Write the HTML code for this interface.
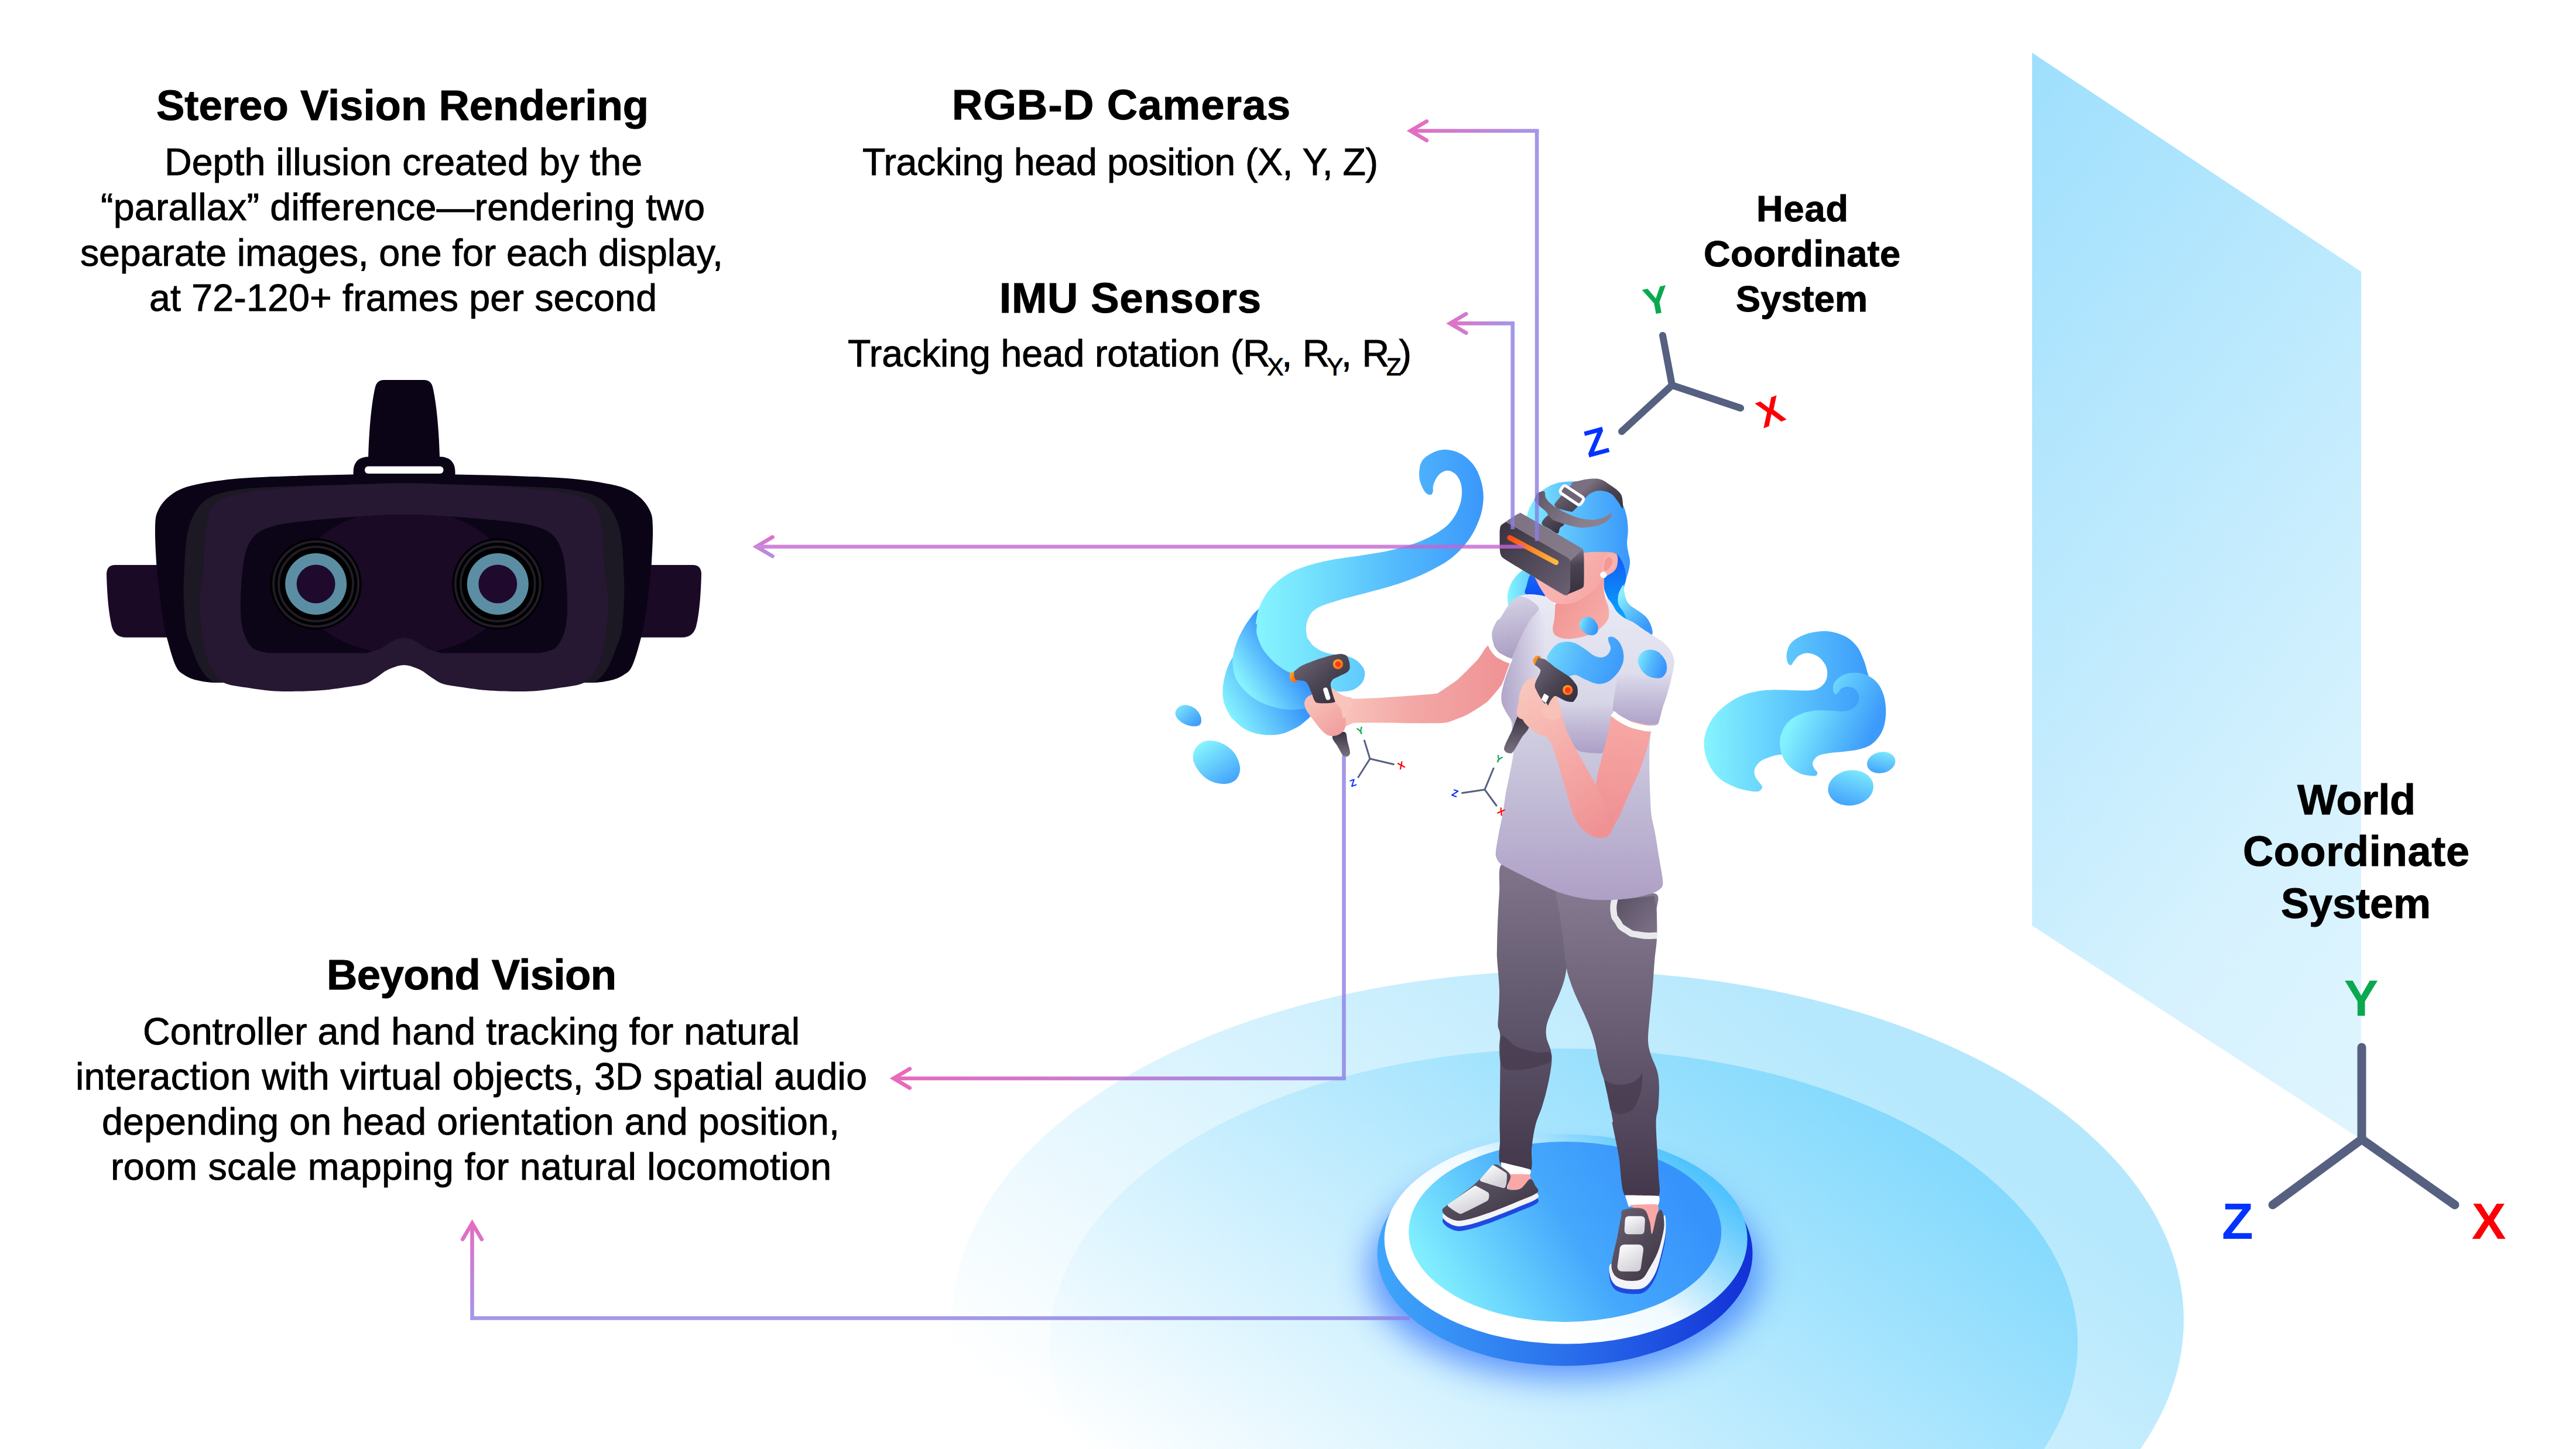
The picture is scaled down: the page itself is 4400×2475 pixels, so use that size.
<!DOCTYPE html>
<html><head><meta charset="utf-8"><title>VR tracking diagram</title>
<style>
html,body{margin:0;padding:0;background:#fff;}
body{width:4400px;height:2475px;overflow:hidden;font-family:"Liberation Sans",sans-serif;}
svg{display:block;}
text{font-family:"Liberation Sans",sans-serif;}
</style></head><body>
<svg width="4400" height="2475" viewBox="0 0 4400 2475">
<defs>
  <linearGradient id="wallG" gradientUnits="userSpaceOnUse" x1="3470" y1="90" x2="4728" y2="1079">
    <stop offset="0" stop-color="#9edffd"/><stop offset="0.73" stop-color="#d6f2fe"/><stop offset="1" stop-color="#dff5fe"/>
  </linearGradient>
  <linearGradient id="floorOuterG" gradientUnits="userSpaceOnUse" x1="1966" y1="2561" x2="2741" y2="1484">
    <stop offset="0" stop-color="#ffffff"/><stop offset="1" stop-color="#b5e8fd"/>
  </linearGradient>
  <linearGradient id="floorInnerG" gradientUnits="userSpaceOnUse" x1="1966" y1="2561" x2="2741" y2="1484">
    <stop offset="0" stop-color="#ffffff"/><stop offset="1" stop-color="#7fd8fd"/>
  </linearGradient>
  <linearGradient id="arrH1" gradientUnits="userSpaceOnUse" x1="2403" y1="0" x2="2628" y2="0">
    <stop offset="0" stop-color="#e247af"/><stop offset="1" stop-color="#8c7ee5"/>
  </linearGradient>
  <linearGradient id="arrH2" gradientUnits="userSpaceOnUse" x1="2470" y1="0" x2="2587" y2="0">
    <stop offset="0" stop-color="#df4cb6"/><stop offset="1" stop-color="#8c7ee5"/>
  </linearGradient>
  <linearGradient id="arrH3" gradientUnits="userSpaceOnUse" x1="1520" y1="0" x2="2299" y2="0">
    <stop offset="0" stop-color="#e544aa"/><stop offset="1" stop-color="#8c7ee5"/>
  </linearGradient>
  <linearGradient id="arrV4" gradientUnits="userSpaceOnUse" x1="0" y1="2083" x2="0" y2="2255">
    <stop offset="0" stop-color="#e247af"/><stop offset="1" stop-color="#8c7ee5"/>
  </linearGradient>
  <linearGradient id="arrV5" gradientUnits="userSpaceOnUse" x1="0" y1="915" x2="0" y2="952">
    <stop offset="0" stop-color="#df4bb8"/><stop offset="1" stop-color="#9c74e2"/>
  </linearGradient>
</defs>

<defs>
<linearGradient id="sw3" gradientUnits="userSpaceOnUse" x1="2099" y1="1224" x2="2200" y2="1167"><stop offset="0" stop-color="#86f4fe"/><stop offset="1" stop-color="#3a97fb"/></linearGradient>
<linearGradient id="sw2" gradientUnits="userSpaceOnUse" x1="2122" y1="1175" x2="2198" y2="1125"><stop offset="0" stop-color="#8af5fe"/><stop offset="1" stop-color="#3a97fb"/></linearGradient>
<linearGradient id="sw1" gradientUnits="userSpaceOnUse" x1="2140" y1="0" x2="2535" y2="0"><stop offset="0" stop-color="#88f6fe"/><stop offset="0.25" stop-color="#74e2fd"/><stop offset="0.6" stop-color="#55bcfc"/><stop offset="1" stop-color="#3a97fb"/></linearGradient>
<linearGradient id="blobA" gradientUnits="userSpaceOnUse" x1="2010" y1="1205" x2="2040" y2="1240"><stop offset="0" stop-color="#7fe8fd"/><stop offset="1" stop-color="#3f9efb"/></linearGradient>
<linearGradient id="blobB" gradientUnits="userSpaceOnUse" x1="2060" y1="1265" x2="2110" y2="1340"><stop offset="0" stop-color="#86f4fe"/><stop offset="1" stop-color="#3f9efb"/></linearGradient>
<linearGradient id="swR1" gradientUnits="userSpaceOnUse" x1="2911" y1="0" x2="3192" y2="0"><stop offset="0" stop-color="#86f4fe"/><stop offset="0.45" stop-color="#62cdfd"/><stop offset="1" stop-color="#3c9afb"/></linearGradient>
<linearGradient id="swR2" gradientUnits="userSpaceOnUse" x1="3042" y1="1275" x2="3168" y2="1328"><stop offset="0" stop-color="#84f2fe"/><stop offset="0.5" stop-color="#5cc4fc"/><stop offset="1" stop-color="#3c9afb"/></linearGradient>
<linearGradient id="blobC" x1="0.8" y1="0" x2="0.2" y2="1"><stop offset="0" stop-color="#7fecfe"/><stop offset="1" stop-color="#3f9efb"/></linearGradient>
<linearGradient id="hairG" gradientUnits="userSpaceOnUse" x1="2605" y1="0" x2="2785" y2="0"><stop offset="0" stop-color="#86f0fe"/><stop offset="0.35" stop-color="#62c8fd"/><stop offset="1" stop-color="#3a97fb"/></linearGradient>
<linearGradient id="hairDark" gradientUnits="userSpaceOnUse" x1="0" y1="945" x2="0" y2="1060"><stop offset="0" stop-color="#1458f5"/><stop offset="1" stop-color="#08a6fc"/></linearGradient>
<linearGradient id="hairLock" gradientUnits="userSpaceOnUse" x1="2760" y1="1010" x2="2820" y2="1060"><stop offset="0" stop-color="#8aeffd"/><stop offset="0.5" stop-color="#55bcfc"/><stop offset="1" stop-color="#3a97fb"/></linearGradient>
<linearGradient id="hairLock2" gradientUnits="userSpaceOnUse" x1="2764" y1="1020" x2="2812" y2="1070"><stop offset="0" stop-color="#8deffd"/><stop offset="0.45" stop-color="#5fc4fc"/><stop offset="1" stop-color="#3a97fb"/></linearGradient>
<linearGradient id="hairL" gradientUnits="userSpaceOnUse" x1="2575" y1="0" x2="2640" y2="0"><stop offset="0" stop-color="#86f4fe"/><stop offset="1" stop-color="#4fb4fc"/></linearGradient>
<linearGradient id="hairDk2" gradientUnits="userSpaceOnUse" x1="0" y1="980" x2="0" y2="1020"><stop offset="0" stop-color="#1a66f6"/><stop offset="1" stop-color="#0b50f4"/></linearGradient>
<linearGradient id="neckG" gradientUnits="userSpaceOnUse" x1="2660" y1="1030" x2="2740" y2="1080"><stop offset="0" stop-color="#f19694"/><stop offset="1" stop-color="#f7aeaa"/></linearGradient>
<linearGradient id="faceG" gradientUnits="userSpaceOnUse" x1="2640" y1="960" x2="2740" y2="1020"><stop offset="0" stop-color="#fab9b5"/><stop offset="1" stop-color="#f6a5a3"/></linearGradient>
<linearGradient id="vrFront" gradientUnits="userSpaceOnUse" x1="2565" y1="900" x2="2680" y2="1010"><stop offset="0" stop-color="#3a3442"/><stop offset="1" stop-color="#685f70"/></linearGradient>
<linearGradient id="vrTop" gradientUnits="userSpaceOnUse" x1="2580" y1="880" x2="2700" y2="940"><stop offset="0" stop-color="#7d7383"/><stop offset="1" stop-color="#847a8a"/></linearGradient>
<linearGradient id="vrSide" gradientUnits="userSpaceOnUse" x1="2690" y1="940" x2="2700" y2="1010"><stop offset="0" stop-color="#7a7080"/><stop offset="0.35" stop-color="#4a4351"/><stop offset="1" stop-color="#38323f"/></linearGradient>
<linearGradient id="vrStrip" gradientUnits="userSpaceOnUse" x1="2578" y1="915" x2="2660" y2="965"><stop offset="0" stop-color="#ff4a12"/><stop offset="0.5" stop-color="#fd8a2a"/><stop offset="1" stop-color="#fdbd40"/></linearGradient>
<linearGradient id="strapTop" gradientUnits="userSpaceOnUse" x1="2650" y1="830" x2="2700" y2="880"><stop offset="0" stop-color="#7c7282"/><stop offset="1" stop-color="#3d3644"/></linearGradient>
<linearGradient id="strapTopR" gradientUnits="userSpaceOnUse" x1="2720" y1="820" x2="2770" y2="870"><stop offset="0" stop-color="#7a7080"/><stop offset="0.5" stop-color="#4a4250"/><stop offset="1" stop-color="#3a3340"/></linearGradient>
<linearGradient id="strapSide" gradientUnits="userSpaceOnUse" x1="2620" y1="840" x2="2700" y2="900"><stop offset="0" stop-color="#5e5666"/><stop offset="1" stop-color="#8a8090"/></linearGradient>
<linearGradient id="strapLeg" gradientUnits="userSpaceOnUse" x1="2640" y1="880" x2="2660" y2="910"><stop offset="0" stop-color="#5a5161"/><stop offset="1" stop-color="#3a3340"/></linearGradient>
<filter id="blur40" x="-20%" y="-50%" width="140%" height="200%"><feGaussianBlur stdDeviation="28"/></filter>
<linearGradient id="platSide" gradientUnits="userSpaceOnUse" x1="2352" y1="0" x2="2994" y2="0"><stop offset="0" stop-color="#3fa6fb"/><stop offset="0.5" stop-color="#2a70ec"/><stop offset="1" stop-color="#1230d6"/></linearGradient>
<linearGradient id="platRim" gradientUnits="userSpaceOnUse" x1="2830" y1="1945" x2="2600" y2="2230"><stop offset="0" stop-color="#4fc3fd"/><stop offset="0.25" stop-color="#8fd9fd"/><stop offset="0.6" stop-color="#f0faff"/><stop offset="1" stop-color="#ffffff"/></linearGradient>
<linearGradient id="platTop" gradientUnits="userSpaceOnUse" x1="2480" y1="2230" x2="2850" y2="2000"><stop offset="0" stop-color="#80eefe"/><stop offset="0.55" stop-color="#45a8fc"/><stop offset="1" stop-color="#3793fc"/></linearGradient>
<linearGradient id="legL" gradientUnits="userSpaceOnUse" x1="0" y1="1500" x2="0" y2="2000"><stop offset="0" stop-color="#7d7288"/><stop offset="0.45" stop-color="#62586d"/><stop offset="1" stop-color="#43384c"/></linearGradient>
<linearGradient id="legR" gradientUnits="userSpaceOnUse" x1="0" y1="1500" x2="0" y2="2040"><stop offset="0" stop-color="#877c92"/><stop offset="0.45" stop-color="#6a5f75"/><stop offset="1" stop-color="#43384c"/></linearGradient>
<linearGradient id="pocketIn" gradientUnits="userSpaceOnUse" x1="2760" y1="1540" x2="2830" y2="1600"><stop offset="0" stop-color="#5c5266"/><stop offset="1" stop-color="#7f7489"/></linearGradient>
<linearGradient id="shoe" x1="0" y1="0" x2="1" y2="1"><stop offset="0" stop-color="#6a6171"/><stop offset="1" stop-color="#3a3340"/></linearGradient>
<linearGradient id="panel" x1="0" y1="0" x2="0.6" y2="1"><stop offset="0" stop-color="#ffffff"/><stop offset="1" stop-color="#d2d1d8"/></linearGradient>
<linearGradient id="armLG" gradientUnits="userSpaceOnUse" x1="2290" y1="0" x2="2560" y2="0"><stop offset="0" stop-color="#f8c4bb"/><stop offset="0.45" stop-color="#f3a8a6"/><stop offset="1" stop-color="#f09497"/></linearGradient>
<linearGradient id="handLG" gradientUnits="userSpaceOnUse" x1="2245" y1="1200" x2="2295" y2="1260"><stop offset="0" stop-color="#f8bdb4"/><stop offset="1" stop-color="#f09a9b"/></linearGradient>
<linearGradient id="shirtG" gradientUnits="userSpaceOnUse" x1="0" y1="1010" x2="0" y2="1545"><stop offset="0" stop-color="#ebebf6"/><stop offset="0.25" stop-color="#dedeed"/><stop offset="0.55" stop-color="#c9c5dc"/><stop offset="1" stop-color="#ad9ec5"/></linearGradient>
<linearGradient id="slvL" gradientUnits="userSpaceOnUse" x1="2560" y1="1020" x2="2580" y2="1130"><stop offset="0" stop-color="#d6d3e6"/><stop offset="1" stop-color="#a79bc0"/></linearGradient>
<linearGradient id="shadeV" gradientUnits="userSpaceOnUse" x1="0" y1="1200" x2="0" y2="1288"><stop offset="0" stop-color="#a798c2" stop-opacity="0"/><stop offset="1" stop-color="#a798c2" stop-opacity="0.85"/></linearGradient>
<linearGradient id="shadeS" gradientUnits="userSpaceOnUse" x1="0" y1="1150" x2="0" y2="1245"><stop offset="0" stop-color="#a99bc4" stop-opacity="0"/><stop offset="1" stop-color="#a99bc4" stop-opacity="0.9"/></linearGradient>
<linearGradient id="shadeL" gradientUnits="userSpaceOnUse" x1="2560" y1="0" x2="2640" y2="0"><stop offset="0" stop-color="#a596c0" stop-opacity="0.8"/><stop offset="1" stop-color="#a596c0" stop-opacity="0"/></linearGradient>
<linearGradient id="decG" x1="0" y1="0" x2="1" y2="0.3"><stop offset="0" stop-color="#86f0fe"/><stop offset="0.5" stop-color="#56bcfc"/><stop offset="1" stop-color="#3a97fb"/></linearGradient>
<linearGradient id="decG2" gradientUnits="userSpaceOnUse" x1="2640" y1="1100" x2="2775" y2="1150"><stop offset="0" stop-color="#74dcfd"/><stop offset="0.5" stop-color="#4fb2fc"/><stop offset="1" stop-color="#3a97fb"/></linearGradient>
<linearGradient id="ctrlG" x1="0" y1="0" x2="1" y2="1"><stop offset="0" stop-color="#736a7b"/><stop offset="0.5" stop-color="#4c4554"/><stop offset="1" stop-color="#2f2a39"/></linearGradient>
<linearGradient id="tipG" x1="0" y1="0" x2="1" y2="1"><stop offset="0" stop-color="#fdb022"/><stop offset="1" stop-color="#f45a1a"/></linearGradient>
<linearGradient id="stickG" x1="0" y1="0" x2="0" y2="1"><stop offset="0" stop-color="#3a3442"/><stop offset="1" stop-color="#7a7080"/></linearGradient>
<linearGradient id="armRU" gradientUnits="userSpaceOnUse" x1="2760" y1="1240" x2="2740" y2="1420"><stop offset="0" stop-color="#f6a6a3"/><stop offset="1" stop-color="#ef8f93"/></linearGradient>
<linearGradient id="armRF" gradientUnits="userSpaceOnUse" x1="2600" y1="1200" x2="2740" y2="1420"><stop offset="0" stop-color="#f9c6bc"/><stop offset="0.35" stop-color="#f6b0ab"/><stop offset="1" stop-color="#f09194"/></linearGradient>
<linearGradient id="handRG" gradientUnits="userSpaceOnUse" x1="2595" y1="1160" x2="2660" y2="1260"><stop offset="0" stop-color="#f9c9be"/><stop offset="1" stop-color="#f6b3ad"/></linearGradient>
</defs>

<!-- wall -->
<polygon points="3471,90 4033,464 4033,1946 3471,1581" fill="url(#wallG)"/>
<!-- floor -->
<ellipse cx="2678" cy="2255" rx="1052" ry="597" fill="url(#floorOuterG)"/>
<ellipse cx="2671" cy="2295" rx="878" ry="504" fill="url(#floorInnerG)"/>

<g id="headset">
<path d="M290,965 L197,965 Q182,965 182,981 C183,1020 186,1050 191,1070 Q196,1088.8 215,1088.8 L290,1088.8 Z" fill="#1a0a26"/>
<path d="M290,965 L197,965 Q182,965 182,981 C183,1020 186,1050 191,1070 Q196,1088.8 215,1088.8 L290,1088.8 Z" fill="#1a0a26" transform="translate(1380,0) scale(-1,1)"/>
<path d="M629,783 C630,740 634,690 641,661 Q644,649 656,649 L724,649 Q736,649 739,661 C746,690 750,740 751,783 Z" fill="#0b0416"/>
<path d="M603.5,815 L603.5,806 Q604,780 631,780 L750,780 Q777,780 777.5,806 L777.5,815 Z" fill="#0b0416"/>
<path d="M690,809.5C660,809.5 631.7,809.9 600,810.5C568.3,811.1 533.3,811.8 500,813C466.7,814.2 429.2,815.2 400,818C370.8,820.8 343.3,825.2 325,830C306.7,834.8 299.2,840 290,847C280.8,854 274.2,863.2 270,872C265.8,880.8 265.5,885.3 265,900C264.5,914.7 266,943.3 267,960C268,976.7 269.3,985 271,1000C272.7,1015 274.7,1035.2 277,1050C279.3,1064.8 281.2,1074.5 285,1089C288.8,1103.5 295,1126.3 300,1137C305,1147.7 308.8,1148.8 315,1153C321.2,1157.2 327,1159.8 337,1162C347,1164.2 356.2,1166.3 375,1166C393.8,1165.7 397.5,1166.3 450,1160C502.5,1153.7 610,1128 690,1128C770,1128 877.5,1153.7 930,1160C982.5,1166.3 986.2,1165.7 1005,1166C1023.8,1166.3 1033,1164.2 1043,1162C1053,1159.8 1058.8,1157.2 1065,1153C1071.2,1148.8 1075,1147.7 1080,1137C1085,1126.3 1091.2,1103.5 1095,1089C1098.8,1074.5 1100.7,1064.8 1103,1050C1105.3,1035.2 1107.3,1015 1109,1000C1110.7,985 1112,976.7 1113,960C1114,943.3 1115.5,914.7 1115,900C1114.5,885.3 1114.2,880.8 1110,872C1105.8,863.2 1099.2,854 1090,847C1080.8,840 1073.3,834.8 1055,830C1036.7,825.2 1009.2,820.8 980,818C950.8,815.2 913.3,814.2 880,813C846.7,811.8 811.7,811.1 780,810.5C748.3,809.9 720,809.5 690,809.5Z" fill="#0b0416"/>
<rect x="623" y="796.5" width="134.5" height="12.5" rx="6" fill="#fff"/>
<path d="M690,826C643.3,826 590,827.9 550,829C510,830.1 475,831.1 450,832.5C425,833.9 414.6,835 400,837.5C385.4,840 372.5,842.9 362.5,847.5C352.5,852.1 346.2,857.5 340,865C333.8,872.5 328.8,881.7 325,892.5C321.2,903.3 319.3,913.4 317.5,930C315.7,946.6 314.6,976.2 314,992C313.4,1007.8 313.4,1011.2 314,1025C314.6,1038.8 315.7,1062.5 317.5,1075C319.3,1087.5 321.2,1089.6 325,1100C328.8,1110.4 334.6,1127.5 340,1137.5C345.4,1147.5 351.7,1155.3 357.5,1160C363.3,1164.7 359.6,1164.7 375,1165.5C390.4,1166.3 397.5,1170.9 450,1165C502.5,1159.1 610,1130 690,1130C770,1130 877.5,1159.1 930,1165C982.5,1170.9 989.6,1166.3 1005,1165.5C1020.4,1164.7 1016.7,1164.7 1022.5,1160C1028.3,1155.3 1034.6,1147.5 1040,1137.5C1045.4,1127.5 1051.2,1110.4 1055,1100C1058.8,1089.6 1060.7,1087.5 1062.5,1075C1064.3,1062.5 1065.4,1038.8 1066,1025C1066.6,1011.2 1066.6,1007.8 1066,992C1065.4,976.2 1064.3,946.6 1062.5,930C1060.7,913.4 1058.8,903.3 1055,892.5C1051.2,881.7 1046.2,872.5 1040,865C1033.8,857.5 1027.5,852.1 1017.5,847.5C1007.5,842.9 994.6,840 980,837.5C965.4,835 955,833.9 930,832.5C905,831.1 870,830.1 830,829C790,827.9 736.7,826 690,826Z" fill="#1c1824"/>
<path d="M690,825.3C676.7,825.3 677.5,825 650,826C622.5,827 558.3,829.1 525,831C491.7,832.9 470.8,835.2 450,837.5C429.2,839.8 412.5,842.1 400,845C387.5,847.9 381.7,850.8 375,855C368.3,859.2 363.8,861.7 360,870C356.2,878.3 354.2,887.5 352,905C349.8,922.5 348.8,955 347,975C345.2,995 341.5,1008.3 341,1025C340.5,1041.7 342.5,1060.5 344,1075C345.5,1089.5 347.3,1101.2 350,1112C352.7,1122.8 355.8,1132 360,1140C364.2,1148 370,1155.2 375,1160C380,1164.8 381.7,1166.5 390,1169C398.3,1171.5 412.9,1173.2 425,1175C437.1,1176.8 450,1179 462.5,1180C475,1181 485.4,1181.2 500,1181C514.6,1180.8 533.3,1180.4 550,1179C566.7,1177.6 587.5,1174.4 600,1172.5C612.5,1170.6 617.9,1170 625,1167.5C632.1,1165 636.2,1161.4 642.5,1157.5C648.8,1153.6 654.6,1147.6 662.5,1144C670.4,1140.4 680.8,1136 690,1136C699.2,1136 709.6,1140.4 717.5,1144C725.4,1147.6 731.2,1153.6 737.5,1157.5C743.8,1161.4 747.9,1165 755,1167.5C762.1,1170 767.5,1170.6 780,1172.5C792.5,1174.4 813.3,1177.6 830,1179C846.7,1180.4 865.4,1180.8 880,1181C894.6,1181.2 905,1181 917.5,1180C930,1179 942.9,1176.8 955,1175C967.1,1173.2 981.7,1171.5 990,1169C998.3,1166.5 1000,1164.8 1005,1160C1010,1155.2 1015.8,1148 1020,1140C1024.2,1132 1027.3,1122.8 1030,1112C1032.7,1101.2 1034.5,1089.5 1036,1075C1037.5,1060.5 1039.5,1041.7 1039,1025C1038.5,1008.3 1034.8,995 1033,975C1031.2,955 1030.2,922.5 1028,905C1025.8,887.5 1023.8,878.3 1020,870C1016.2,861.7 1011.7,859.2 1005,855C998.3,850.8 992.5,847.9 980,845C967.5,842.1 950.8,839.8 930,837.5C909.2,835.2 888.3,832.9 855,831C821.7,829.1 757.5,827 730,826C702.5,825 703.3,825.3 690,825.3Z" fill="#261733"/>
<clipPath id="faceClip"><path d="M690,879C683.3,879.2 669.2,879 650,880C630.8,881 600,882.9 575,885C550,887.1 518.8,890 500,892.5C481.2,895 472.9,896.7 462.5,900C452.1,903.3 444.2,906.7 437.5,912.5C430.8,918.3 426.2,925.8 422.5,935C418.8,944.2 416.9,952.5 415,967.5C413.1,982.5 411.4,1009.2 411,1025C410.6,1040.8 411.2,1052.1 412.5,1062.5C413.8,1072.9 415.7,1080 419,1087.5C422.3,1095 426.1,1102.8 432.5,1107.5C438.9,1112.2 453.3,1114.2 457.5,1115.5L625,1115.5C629.2,1114.2 642.5,1110.9 650,1107.5C657.5,1104.1 663.3,1098.1 670,1095C676.7,1091.9 683.3,1089 690,1089C696.7,1089 703.3,1091.9 710,1095C716.7,1098.1 722.5,1104.1 730,1107.5C737.5,1110.9 750.8,1114.2 755,1115.5L922.5,1115.5C926.7,1114.2 941.1,1112.2 947.5,1107.5C953.9,1102.8 957.7,1095 961,1087.5C964.3,1080 966.2,1072.9 967.5,1062.5C968.8,1052.1 969.4,1040.8 969,1025C968.6,1009.2 966.9,982.5 965,967.5C963.1,952.5 961.2,944.2 957.5,935C953.8,925.8 949.2,918.3 942.5,912.5C935.8,906.7 927.9,903.3 917.5,900C907.1,896.7 898.8,895 880,892.5C861.2,890 830,887.1 805,885C780,882.9 749.2,881 730,880C710.8,879 696.7,879.2 690,879Z"/></clipPath>
<path d="M690,879C683.3,879.2 669.2,879 650,880C630.8,881 600,882.9 575,885C550,887.1 518.8,890 500,892.5C481.2,895 472.9,896.7 462.5,900C452.1,903.3 444.2,906.7 437.5,912.5C430.8,918.3 426.2,925.8 422.5,935C418.8,944.2 416.9,952.5 415,967.5C413.1,982.5 411.4,1009.2 411,1025C410.6,1040.8 411.2,1052.1 412.5,1062.5C413.8,1072.9 415.7,1080 419,1087.5C422.3,1095 426.1,1102.8 432.5,1107.5C438.9,1112.2 453.3,1114.2 457.5,1115.5L625,1115.5C629.2,1114.2 642.5,1110.9 650,1107.5C657.5,1104.1 663.3,1098.1 670,1095C676.7,1091.9 683.3,1089 690,1089C696.7,1089 703.3,1091.9 710,1095C716.7,1098.1 722.5,1104.1 730,1107.5C737.5,1110.9 750.8,1114.2 755,1115.5L922.5,1115.5C926.7,1114.2 941.1,1112.2 947.5,1107.5C953.9,1102.8 957.7,1095 961,1087.5C964.3,1080 966.2,1072.9 967.5,1062.5C968.8,1052.1 969.4,1040.8 969,1025C968.6,1009.2 966.9,982.5 965,967.5C963.1,952.5 961.2,944.2 957.5,935C953.8,925.8 949.2,918.3 942.5,912.5C935.8,906.7 927.9,903.3 917.5,900C907.1,896.7 898.8,895 880,892.5C861.2,890 830,887.1 805,885C780,882.9 749.2,881 730,880C710.8,879 696.7,879.2 690,879Z" fill="#0c0417"/>
<ellipse cx="690" cy="994" rx="182" ry="124" fill="#1a0a26" clip-path="url(#faceClip)"/>
<circle cx="539.6" cy="997.5" r="78" fill="#000"/>
<circle cx="539.6" cy="997.5" r="72.5" fill="none" stroke="#211d28" stroke-width="4"/>
<circle cx="539.6" cy="997.5" r="63.5" fill="none" stroke="#211d28" stroke-width="4"/>
<circle cx="539.6" cy="997.5" r="52.5" fill="#5b8ea3"/>
<circle cx="539.6" cy="997.5" r="33" fill="#1f0a2d"/>
<circle cx="850.3" cy="997.5" r="78" fill="#000"/>
<circle cx="850.3" cy="997.5" r="72.5" fill="none" stroke="#211d28" stroke-width="4"/>
<circle cx="850.3" cy="997.5" r="63.5" fill="none" stroke="#211d28" stroke-width="4"/>
<circle cx="850.3" cy="997.5" r="52.5" fill="#5b8ea3"/>
<circle cx="850.3" cy="997.5" r="33" fill="#1f0a2d"/>
</g>

<g id="swirlL">
<path d="M2133.5,1086.8C2112.7,1090.7 2111.8,1113 2105.1,1123.5C2098.4,1134.1 2096.2,1140.8 2093.4,1150.3C2090.6,1159.7 2088.7,1171.4 2088.4,1180.3C2088.1,1189.2 2089.5,1196.4 2091.8,1203.7C2094,1210.9 2099.6,1219.8 2101.8,1223.7C2103.9,1227.6 2101.2,1223.9 2104.5,1227C2107.8,1230.1 2116.1,1238.6 2121.8,1242.6C2127.6,1246.6 2133.3,1249 2139,1251C2144.7,1253 2150.2,1254 2156,1254.7C2161.8,1255.5 2167.7,1255.8 2173.5,1255.5C2179.3,1255.2 2185.1,1254.6 2190.8,1253C2196.6,1251.4 2202.3,1248.9 2208,1246C2213.7,1243.1 2218.8,1240.9 2225,1235.7C2231.2,1230.5 2239.2,1224.3 2245,1215C2250.8,1205.7 2262.5,1199.2 2260,1180C2257.5,1160.8 2251.1,1115.5 2230,1100C2208.9,1084.5 2154.3,1082.9 2133.5,1086.8Z" fill="url(#sw3)"/>
<path d="M2166.9,1033.4C2151.9,1023.4 2155.7,1035.9 2150.2,1040.1C2144.6,1044.2 2139.1,1050.6 2133.5,1058.4C2127.9,1066.2 2121.2,1077.1 2116.8,1086.8C2112.3,1096.5 2108.6,1108.2 2106.8,1116.9C2105,1125.5 2105.1,1131.3 2105.9,1138.6C2106.8,1145.8 2108.3,1153.3 2111.8,1160.3C2115.3,1167.2 2120.7,1174.2 2126.8,1180.3C2132.9,1186.4 2140.7,1192.5 2148.5,1197C2156.3,1201.4 2165.2,1204.5 2173.6,1207C2181.9,1209.5 2190.8,1211.3 2198.6,1212C2206.4,1212.7 2214.5,1212 2220.3,1211.2C2226.1,1210.4 2227,1212.2 2233.7,1207C2240.3,1201.8 2258.9,1197.8 2260,1180C2261.1,1162.2 2255.5,1124.4 2240,1100C2224.5,1075.6 2181.8,1043.4 2166.9,1033.4Z" fill="url(#sw2)"/>
<path d="M2443.8,845.2C2445.6,844.8 2446.7,843 2447.5,840C2448.3,837 2446.8,832.3 2448.5,827.5C2450.2,822.7 2453.5,815.2 2457.5,811.2C2461.5,807.3 2467.5,803.8 2472.5,803.8C2477.5,803.8 2483.5,806.9 2487.5,811.2C2491.5,815.6 2495,822.3 2496.2,830C2497.5,837.7 2497.3,848.3 2495,857.5C2492.7,866.7 2487.9,877.1 2482.5,885C2477.1,892.9 2472.1,898.3 2462.5,905C2452.9,911.7 2439.6,919.2 2425,925C2410.4,930.8 2391.7,936 2375,940C2358.3,944 2341.7,946 2325,948.8C2308.3,951.5 2289.6,953.5 2275,956.2C2260.4,959 2249.2,961.5 2237.5,965C2225.8,968.5 2214.6,972.5 2205,977.5C2195.4,982.5 2187.1,988.8 2180,995C2172.9,1001.2 2167.5,1007.5 2162.5,1015C2157.5,1022.5 2152.9,1031.7 2150,1040C2147.1,1048.3 2145.5,1060.5 2145,1065C2144.5,1069.5 2146.5,1063.7 2146.8,1066.8C2147.2,1069.9 2145.2,1076.5 2146.8,1083.5C2148.5,1090.4 2152.4,1101 2156.9,1108.5C2161.3,1116 2168,1123 2173.6,1128.5C2179.1,1134.1 2184.7,1138.3 2190.3,1141.9C2195.8,1145.5 2197,1145.9 2206.9,1150.3C2216.9,1154.6 2237.8,1163 2250,1168C2262.2,1173 2272.2,1177.8 2280,1180C2287.8,1182.2 2291.5,1181.6 2297.1,1181.1C2302.7,1180.6 2308.8,1179.6 2313.8,1177C2318.8,1174.3 2324.2,1169.7 2327.1,1165.3C2330.1,1160.8 2331.3,1154.7 2331.3,1150.3C2331.3,1145.8 2329.8,1142.5 2327.1,1138.6C2324.5,1134.7 2320.2,1129.9 2315.5,1126.9C2310.7,1123.8 2305.7,1121.9 2298.8,1120.2C2291.8,1118.5 2281.2,1118.5 2273.7,1116.9C2266.2,1115.2 2259.8,1113.5 2253.7,1110.2C2247.6,1106.8 2240.8,1101.8 2237,1096.8C2233.2,1091.8 2231.7,1086.5 2231.2,1080.1C2230.6,1073.7 2230.7,1065.2 2233.7,1058.4C2236.6,1051.6 2239.7,1044.8 2248.7,1039.2C2257.7,1033.7 2274.8,1029 2287.5,1025C2300.2,1021 2308.3,1019.6 2325,1015C2341.7,1010.4 2368.8,1003.8 2387.5,997.5C2406.2,991.2 2422.1,985 2437.5,977.5C2452.9,970 2467.9,962.1 2480,952.5C2492.1,942.9 2502.1,931.2 2510,920C2517.9,908.8 2523.5,896.2 2527.5,885C2531.5,873.8 2533.3,862.9 2533.8,852.5C2534.2,842.1 2532.7,832.1 2530,822.5C2527.3,812.9 2523.3,802.9 2517.5,795C2511.7,787.1 2503.3,779.5 2495,775C2486.7,770.5 2476,768 2467.5,768C2459,768 2450.4,771.3 2443.8,775C2437.1,778.7 2430.8,783.3 2427.5,790C2424.2,796.7 2423.9,807.9 2424.2,815C2424.6,822.1 2427.5,827.9 2429.5,832.5C2431.5,837.1 2433.9,840.4 2436.2,842.5C2438.6,844.6 2441.9,845.7 2443.8,845.2Z" fill="url(#sw1)"/>
<path d="M2007.5,1217.5C2007.9,1214.2 2010.4,1209.7 2013.8,1207.5C2017.1,1205.3 2022.7,1203.9 2027.5,1204.5C2032.3,1205.1 2038.5,1207.8 2042.5,1211.2C2046.5,1214.7 2050,1220.6 2051.2,1225C2052.5,1229.4 2052.3,1234.9 2050,1237.5C2047.7,1240.1 2042.1,1240.7 2037.5,1240.5C2032.9,1240.3 2026.9,1238.4 2022.5,1236.2C2018.1,1234.1 2013.8,1230.6 2011.2,1227.5C2008.8,1224.4 2007.1,1220.8 2007.5,1217.5Z" fill="url(#blobA)"/>
<path d="M2038,1297.5C2036.8,1290.4 2038.8,1282.8 2042.5,1277.5C2046.2,1272.2 2052.9,1267 2060,1265.5C2067.1,1264 2077.1,1265.5 2085,1268.8C2092.9,1272 2102,1278.1 2107.5,1285C2113,1291.9 2117.2,1302.5 2118,1310C2118.8,1317.5 2116.3,1325.2 2112.5,1330C2108.7,1334.8 2102.1,1337.9 2095,1338.8C2087.9,1339.6 2077.5,1338.1 2070,1335C2062.5,1331.9 2055.3,1326.2 2050,1320C2044.7,1313.8 2039.2,1304.6 2038,1297.5Z" fill="url(#blobB)"/>
</g>
<g id="swirlR">
<path d="M3058.8,1136.2C3056.8,1136.5 3054.1,1134 3053,1130.5C3051.9,1127 3050.8,1120.5 3052,1115C3053.2,1109.5 3055.3,1102.5 3060,1097.5C3064.7,1092.5 3072.5,1088.1 3080,1085C3087.5,1081.9 3096.7,1079.7 3105,1078.8C3113.3,1077.8 3121.7,1077.8 3130,1079.5C3138.3,1081.2 3147.9,1084.5 3155,1088.8C3162.1,1093 3167.9,1099 3172.5,1105C3177.1,1111 3179.8,1118.3 3182.5,1125C3185.2,1131.7 3187.1,1137.5 3188.8,1145C3190.4,1152.5 3194,1156.7 3192.5,1170C3191,1183.3 3190.4,1207.5 3180,1225C3169.6,1242.5 3146.7,1264.6 3130,1275C3113.3,1285.4 3094.6,1285.2 3080,1287.5C3065.4,1289.8 3051.7,1287.9 3042.5,1288.8C3033.3,1289.6 3030.8,1290.6 3025,1292.5C3019.2,1294.4 3012.1,1296.7 3007.5,1300C3002.9,1303.3 2999.2,1308.3 2997.5,1312.5C2995.8,1316.7 2996.5,1321.2 2997.5,1325C2998.5,1328.8 3001.7,1331.9 3003.8,1335C3005.8,1338.1 3009.8,1341 3010,1343.8C3010.2,1346.5 3008.3,1350 3005,1351.2C3001.7,1352.5 2996.7,1352.3 2990,1351.2C2983.3,1350.2 2973.8,1348.5 2965,1345C2956.2,1341.5 2945,1336.2 2937.5,1330C2930,1323.8 2924.4,1315.8 2920,1307.5C2915.6,1299.2 2912.5,1288.8 2911.2,1280C2910,1271.2 2910.2,1263.8 2912.5,1255C2914.8,1246.2 2918.8,1236.2 2925,1227.5C2931.2,1218.8 2940.8,1209.4 2950,1202.5C2959.2,1195.6 2968.8,1190.2 2980,1186.2C2991.2,1182.3 3005,1180 3017.5,1178.8C3030,1177.5 3043.8,1178.6 3055,1178.8C3066.2,1178.9 3076.7,1179.9 3085,1179.5C3093.3,1179.1 3099.6,1178.7 3105,1176.2C3110.4,1173.8 3114.8,1169.4 3117.5,1165C3120.2,1160.6 3121.2,1155 3121.2,1150C3121.2,1145 3120.2,1139.8 3117.5,1135C3114.8,1130.2 3110,1124.5 3105,1121.2C3100,1118 3092.9,1115.7 3087.5,1115.5C3082.1,1115.3 3076.3,1117.8 3072.5,1120C3068.7,1122.2 3066.8,1126 3064.5,1128.8C3062.2,1131.5 3060.7,1136 3058.8,1136.2Z" fill="url(#swR1)"/>
<path d="M3135,1186.2C3133.7,1185.6 3131.7,1183.1 3131.2,1180C3130.8,1176.9 3130.6,1171.5 3132.5,1167.5C3134.4,1163.5 3138.3,1159.2 3142.5,1156.2C3146.7,1153.3 3152.1,1151.1 3157.5,1150C3162.9,1148.9 3169.2,1148.7 3175,1149.5C3180.8,1150.3 3187.1,1152 3192.5,1155C3197.9,1158 3203.3,1162.1 3207.5,1167.5C3211.7,1172.9 3215.2,1180 3217.5,1187.5C3219.8,1195 3221,1204.2 3221.2,1212.5C3221.5,1220.8 3220.6,1230 3218.8,1237.5C3216.9,1245 3214,1251.7 3210,1257.5C3206,1263.3 3200.8,1268.8 3195,1272.5C3189.2,1276.2 3182.5,1278.1 3175,1280C3167.5,1281.9 3158.3,1282.7 3150,1283.8C3141.7,1284.8 3132.5,1285 3125,1286.2C3117.5,1287.5 3109.8,1288.5 3105,1291.2C3100.2,1294 3097.3,1299 3096.2,1302.5C3095.2,1306 3097.5,1309.8 3098.8,1312.5C3100,1315.2 3103.1,1316.8 3103.8,1318.8C3104.4,1320.8 3104.4,1323.5 3102.5,1324.5C3100.6,1325.5 3097.1,1325.5 3092.5,1325C3087.9,1324.5 3080.8,1323.8 3075,1321.2C3069.2,1318.8 3062.5,1314.8 3057.5,1310C3052.5,1305.2 3047.9,1299.2 3045,1292.5C3042.1,1285.8 3040.2,1277.1 3040,1270C3039.8,1262.9 3041.2,1256.2 3043.8,1250C3046.2,1243.8 3049.8,1237.5 3055,1232.5C3060.2,1227.5 3067.5,1223.1 3075,1220C3082.5,1216.9 3091.7,1214.8 3100,1213.8C3108.3,1212.7 3116.7,1213.5 3125,1213.8C3133.3,1214 3143.3,1215.6 3150,1215C3156.7,1214.4 3161,1212.5 3165,1210C3169,1207.5 3172.1,1203.8 3173.8,1200C3175.4,1196.2 3176,1191.5 3175,1187.5C3174,1183.5 3170.8,1178.7 3167.5,1176.2C3164.2,1173.8 3158.8,1173 3155,1173C3151.2,1173 3147.6,1174.5 3145,1176.2C3142.4,1178 3140.9,1182.1 3139.2,1183.8C3137.6,1185.4 3136.3,1186.9 3135,1186.2Z" fill="url(#swR2)"/>
<ellipse cx="3213.2" cy="1302.5" rx="24.5" ry="18" fill="url(#blobC)" transform="rotate(-12 3213.2 1302.5)"/>
<ellipse cx="3161.2" cy="1345.8" rx="39" ry="30" fill="url(#blobC)" transform="rotate(-8 3161.2 1345.8)"/>
</g>
<g id="platform">
<ellipse cx="2673" cy="2170" rx="335" ry="185" fill="#3a78fb" opacity="0.75" filter="url(#blur40)"/>
<ellipse cx="2673" cy="2141" rx="320.5" ry="192" fill="url(#platSide)"/>
<ellipse cx="2674.6" cy="2116.5" rx="310" ry="179" fill="url(#platRim)"/>
<ellipse cx="2673.2" cy="2104" rx="267" ry="154" fill="url(#platTop)"/>
</g>
<g id="legs">
<path d="M2566.7,1476.8C2559.3,1481 2563.7,1507.4 2562.5,1523.6C2561.4,1539.7 2560.4,1556.9 2559.7,1573.6C2559,1590.3 2558.5,1612.7 2558.4,1623.7C2558.2,1634.8 2558.1,1629 2558.8,1640C2559.4,1651 2562.1,1675 2562.5,1690C2562.9,1705 2561.7,1719.6 2561.2,1730C2560.8,1740.4 2559.6,1745.8 2560,1752.5C2560.4,1759.2 2563.1,1755.4 2563.8,1770C2564.4,1784.6 2563.9,1815.8 2563.8,1840C2563.6,1864.2 2563,1897.1 2563,1915C2563,1932.9 2563.5,1935.7 2563.6,1947.6C2563.7,1959.5 2559.5,1978.2 2563.6,1986.3C2567.7,1994.3 2580.2,1993.8 2588.4,1995.9C2596.7,1998 2608.9,2004.4 2613.3,1998.7C2617.7,1992.9 2613.3,1974.5 2614.7,1961.4C2616.1,1948.3 2618.6,1931.9 2621.6,1920C2624.5,1908.1 2629,1901.2 2632.5,1890C2636,1878.8 2639.8,1865 2642.5,1852.5C2645.2,1840 2647.9,1824.6 2648.8,1815C2649.6,1805.4 2649,1802.1 2647.5,1795C2646,1787.9 2641.2,1779.6 2640,1772.5C2638.8,1765.4 2638.8,1759.6 2640,1752.5C2641.2,1745.4 2644.2,1738.3 2647.5,1730C2650.8,1721.7 2656.2,1711.7 2660,1702.5C2663.8,1693.3 2667.5,1683.8 2670,1675C2672.5,1666.2 2673.3,1660 2675,1650C2676.7,1640 2674.7,1627.7 2680,1615C2685.3,1602.3 2705.2,1587.5 2706.9,1573.6C2708.7,1559.8 2698.6,1540.8 2690.3,1531.9C2681.9,1523 2670.8,1525.8 2656.9,1520.2C2642.9,1514.7 2621.8,1505.7 2606.8,1498.5C2591.8,1491.3 2574.1,1472.6 2566.7,1476.8Z" fill="url(#legL)" stroke="url(#legL)" stroke-width="3"/>
<path d="M2659.4,1521.9C2654.9,1526.2 2661.7,1542.8 2663.5,1556.9C2665.3,1571.1 2668.7,1595.3 2670.2,1607C2671.7,1618.8 2671.7,1620.3 2672.5,1627.5C2673.3,1634.7 2673.8,1642.9 2675,1650C2676.2,1657.1 2677.5,1662.1 2680,1670C2682.5,1677.9 2685.8,1687.5 2690,1697.5C2694.2,1707.5 2700.4,1719.6 2705,1730C2709.6,1740.4 2714.2,1750.8 2717.5,1760C2720.8,1769.2 2722.9,1776.7 2725,1785C2727.1,1793.3 2728.3,1802.5 2730,1810C2731.7,1817.5 2733.3,1824.2 2735,1830C2736.7,1835.8 2737.9,1837.1 2740,1845C2742.1,1852.9 2745,1865.8 2747.5,1877.5C2750,1889.2 2753.9,1907.9 2755,1915C2756.1,1922.1 2752.4,1910 2754.1,1920C2755.8,1930 2761.7,1955 2765.1,1975.2C2768.6,1995.5 2768.3,2029.7 2774.8,2041.5C2781.2,2053.2 2794.1,2045.4 2803.8,2045.6C2813.4,2045.8 2827.9,2050 2832.8,2042.8C2837.6,2035.7 2833.4,2023.3 2832.8,2002.8C2832.1,1982.3 2828.7,1938.8 2828.6,1920C2828.6,1901.2 2831.6,1901.2 2832.5,1890C2833.4,1878.8 2834.2,1862.9 2833.8,1852.5C2833.3,1842.1 2832.3,1835.8 2830,1827.5C2827.7,1819.2 2822.5,1810.8 2820,1802.5C2817.5,1794.2 2815.4,1787.9 2815,1777.5C2814.6,1767.1 2816.2,1754.6 2817.5,1740C2818.8,1725.4 2821,1706.7 2822.5,1690C2824,1673.3 2825,1654.6 2826.2,1640C2827.5,1625.4 2829.4,1616.3 2830,1602.5C2830.6,1588.7 2830.3,1569.7 2829.6,1556.9C2829,1544.2 2838.4,1529.7 2826.3,1526.1C2814.2,1522.4 2779.7,1534.4 2757,1535.2C2734.4,1536.1 2706.5,1533.3 2690.3,1531.1C2674,1528.8 2663.8,1517.6 2659.4,1521.9Z" fill="url(#legR)"/>
<path d="M2563.8,1770C2567.9,1764.5 2579.8,1782.9 2590,1787.5C2600.2,1792.1 2615.4,1795.8 2625,1797.5C2634.6,1799.2 2643.6,1795 2647.5,1797.5C2651.4,1800 2651.4,1808.7 2648.5,1812.5C2645.6,1816.3 2638.9,1818 2630,1820.5C2621.1,1823 2605.8,1827.5 2595,1827.5C2584.2,1827.5 2570.2,1830.1 2565,1820.5C2559.8,1810.9 2559.6,1775.5 2563.8,1770Z" fill="#483c50" opacity="0.8"/>
<path d="M2740,1845C2743.3,1846.2 2752.5,1851.7 2760,1852.5C2767.5,1853.3 2778.3,1852.1 2785,1850C2791.7,1847.9 2796.6,1843.3 2800,1840C2803.4,1836.7 2804.6,1831.7 2805.5,1830C2805.2,1835 2805.5,1850.8 2803.8,1860C2802,1869.2 2798.1,1878.7 2795,1885C2791.9,1891.3 2790,1895.1 2785,1898C2780,1900.9 2770.8,1902.9 2765,1902.5C2759.2,1902.1 2752.9,1896.7 2750.5,1895.5C2749.7,1891.2 2747.2,1878.4 2745.5,1870C2743.8,1861.6 2740.9,1849.2 2740,1845Z" fill="#483c50" opacity="0.8"/>
<path d="M2757,1537.7C2757,1540.3 2756.1,1552.2 2757,1556.9C2757.9,1561.7 2760.8,1569.5 2763.7,1573.6C2766.6,1577.8 2773.8,1584.8 2778.7,1587.8C2783.6,1590.8 2793.6,1594.8 2800.4,1596.2C2807.3,1597.5 2826.2,1597.6 2830.2,1597.8C2830.1,1592.4 2830.2,1566 2829.6,1556.9C2829.1,1547.9 2826.3,1533.8 2825.8,1530.2Z" fill="url(#pocketIn)"/>
<path d="M2757.9,1535.2C2757.3,1542.5 2754.5,1544.1 2756.2,1556.9C2757.9,1569.7 2755.8,1563.1 2762.9,1573.6C2769.9,1584.2 2764.9,1580.9 2777.4,1588.7C2789.9,1596.5 2782.8,1593.9 2800.4,1597C2818,1600.1 2820.2,1597.7 2830.2,1598" fill="none" stroke="#e9e9ec" stroke-width="11"/>
</g>
<g id="feet">
<path d="M2463.4,2067.7C2463.2,2064.1 2467.3,2062.4 2472.5,2058C2477.7,2053.7 2486.8,2047.4 2494.6,2041.5C2502.4,2035.5 2512.1,2028.6 2519.4,2022.1C2526.8,2015.7 2533.2,2008.3 2538.8,2002.8C2544.3,1997.3 2548,1990.4 2552.6,1989C2557.2,1987.6 2561.8,1991.3 2566.4,1994.5C2571,1997.8 2578.8,2002.4 2580.2,2008.3C2581.5,2014.3 2571.9,2026.7 2574.6,2030.4C2577.4,2034.1 2590.3,2033.2 2596.7,2030.4C2603.2,2027.7 2609.1,2014.8 2613.3,2013.9C2617.5,2012.9 2620.1,2021 2622.1,2024.9C2624.1,2028.8 2631.1,2032.5 2625.4,2037.3C2619.8,2042.2 2603.8,2047.6 2588.4,2053.9C2573.1,2060.2 2548.9,2069.9 2533.2,2075.1C2517.6,2080.3 2504.5,2084.3 2494.6,2085.1C2484.7,2085.8 2479.1,2082.5 2473.9,2079.6C2468.7,2076.7 2463.6,2071.3 2463.4,2067.7Z" fill="#1f49e0" transform="translate(0.5,17.5)"/>
<path d="M2463.4,2067.7C2463.2,2064.1 2467.3,2062.4 2472.5,2058C2477.7,2053.7 2486.8,2047.4 2494.6,2041.5C2502.4,2035.5 2512.1,2028.6 2519.4,2022.1C2526.8,2015.7 2533.2,2008.3 2538.8,2002.8C2544.3,1997.3 2548,1990.4 2552.6,1989C2557.2,1987.6 2561.8,1991.3 2566.4,1994.5C2571,1997.8 2578.8,2002.4 2580.2,2008.3C2581.5,2014.3 2571.9,2026.7 2574.6,2030.4C2577.4,2034.1 2590.3,2033.2 2596.7,2030.4C2603.2,2027.7 2609.1,2014.8 2613.3,2013.9C2617.5,2012.9 2620.1,2021 2622.1,2024.9C2624.1,2028.8 2631.1,2032.5 2625.4,2037.3C2619.8,2042.2 2603.8,2047.6 2588.4,2053.9C2573.1,2060.2 2548.9,2069.9 2533.2,2075.1C2517.6,2080.3 2504.5,2084.3 2494.6,2085.1C2484.7,2085.8 2479.1,2082.5 2473.9,2079.6C2468.7,2076.7 2463.6,2071.3 2463.4,2067.7Z" fill="#f4f4f8" transform="translate(0.5,9.5)"/>
<path d="M2563.6,1984.9C2566.9,1985.7 2610.1,1995.8 2613.3,1997.3C2616.5,1998.8 2614.1,2007 2611.9,2007.8C2609.7,2008.5 2583.3,2009 2580.2,2008.3C2577,2007.6 2566,1998 2565,1997.3Z" fill="#ffffff"/>
<path d="M2579.6,2005.6C2581.8,2005.6 2609.6,2005.4 2611.9,2006.1C2614.2,2006.9 2615.7,2014.9 2614.7,2016.6C2613.7,2018.3 2599.4,2030.8 2596.7,2031.8C2594.1,2032.8 2576.1,2031.8 2574.6,2031.8Z" fill="#f9a8a6"/>
<path d="M2463.4,2067.7C2463.2,2064.1 2467.3,2062.4 2472.5,2058C2477.7,2053.7 2486.8,2047.4 2494.6,2041.5C2502.4,2035.5 2512.1,2028.6 2519.4,2022.1C2526.8,2015.7 2533.2,2008.3 2538.8,2002.8C2544.3,1997.3 2548,1990.4 2552.6,1989C2557.2,1987.6 2561.8,1991.3 2566.4,1994.5C2571,1997.8 2578.8,2002.4 2580.2,2008.3C2581.5,2014.3 2571.9,2026.7 2574.6,2030.4C2577.4,2034.1 2590.3,2033.2 2596.7,2030.4C2603.2,2027.7 2609.1,2014.8 2613.3,2013.9C2617.5,2012.9 2620.1,2021 2622.1,2024.9C2624.1,2028.8 2631.1,2032.5 2625.4,2037.3C2619.8,2042.2 2603.8,2047.6 2588.4,2053.9C2573.1,2060.2 2548.9,2069.9 2533.2,2075.1C2517.6,2080.3 2504.5,2084.3 2494.6,2085.1C2484.7,2085.8 2479.1,2082.5 2473.9,2079.6C2468.7,2076.7 2463.6,2071.3 2463.4,2067.7Z" fill="url(#shoe)"/>
<path d="M2550.4,1993.2C2551.2,1993.7 2570,2004.5 2570.8,2005.9C2571.5,2007.2 2570.2,2025.9 2568.6,2026.3C2566.9,2026.7 2532.6,2015.7 2531,2015.2Z" fill="url(#panel)" stroke="url(#panel)" stroke-width="6" stroke-linejoin="round"/>
<path d="M2520,2028.2C2520.8,2028.7 2539.4,2038.4 2540.1,2039.3C2540.9,2040.1 2540.7,2047.1 2538.8,2048.4C2536.9,2049.7 2497.2,2070 2494.6,2070.4C2492,2070.9 2476.6,2059.1 2475.8,2058.6Z" fill="url(#panel)" stroke="url(#panel)" stroke-width="6" stroke-linejoin="round"/>
<path d="M2749.4,2160.2C2747.5,2164.3 2749.2,2176.3 2751.3,2182.2C2753.5,2188.2 2756.8,2192.9 2762.4,2196.1C2767.9,2199.2 2776.6,2200.8 2784.4,2201C2792.3,2201.3 2802.2,2201.9 2809.3,2197.4C2816.4,2192.9 2822.4,2183.9 2827.2,2174C2832.1,2164.1 2835.3,2150 2838.3,2138.1C2841.3,2126.1 2844.4,2112.8 2845.2,2102.2C2846,2091.6 2845.3,2072.7 2843,2074.6C2840.7,2076.4 2837,2102.2 2831.4,2113.2C2825.8,2124.3 2817.6,2133.9 2809.3,2140.8C2801,2147.7 2789.5,2151.9 2781.7,2154.6C2773.9,2157.4 2767.7,2156.5 2762.4,2157.4C2757,2158.3 2751.2,2156 2749.4,2160.2Z" fill="#1f49e0" transform="translate(0,9)"/>
<path d="M2749.4,2160.2C2747.5,2164.3 2749.2,2176.3 2751.3,2182.2C2753.5,2188.2 2756.8,2192.9 2762.4,2196.1C2767.9,2199.2 2776.6,2200.8 2784.4,2201C2792.3,2201.3 2802.2,2201.9 2809.3,2197.4C2816.4,2192.9 2822.4,2183.9 2827.2,2174C2832.1,2164.1 2835.3,2150 2838.3,2138.1C2841.3,2126.1 2844.4,2112.8 2845.2,2102.2C2846,2091.6 2845.3,2072.7 2843,2074.6C2840.7,2076.4 2837,2102.2 2831.4,2113.2C2825.8,2124.3 2817.6,2133.9 2809.3,2140.8C2801,2147.7 2789.5,2151.9 2781.7,2154.6C2773.9,2157.4 2767.7,2156.5 2762.4,2157.4C2757,2158.3 2751.2,2156 2749.4,2160.2Z" fill="#f4f4f8" transform="translate(0,1)"/>
<path d="M2775.6,2041.5C2779.4,2041.6 2829.1,2041.6 2832.8,2042.8C2836.4,2044 2834.2,2058.2 2830.8,2059.4C2827.4,2060.6 2785,2060.7 2781.7,2060.8Z" fill="#ffffff"/>
<path d="M2783.1,2058C2786.2,2058 2827.6,2056.4 2830.8,2057.5C2834.1,2058.6 2832.4,2071.1 2831.9,2074.6C2831.4,2078.1 2824.8,2110.5 2823.1,2110.5C2821.4,2110.5 2807.6,2077 2806.5,2074.6Z" fill="#f9a8a6"/>
<path d="M2773.4,2066.3C2779.7,2063.8 2799.2,2061.7 2806.5,2064.9C2813.9,2068.1 2815,2078.5 2817.6,2085.6C2820.1,2092.8 2819.6,2109.6 2821.7,2107.7C2823.8,2105.9 2827.5,2081.5 2830,2074.6C2832.5,2067.7 2835,2065.8 2836.9,2066.3C2838.8,2066.8 2840.5,2071.8 2841.3,2077.3C2842.1,2082.9 2843.4,2089.3 2841.9,2099.4C2840.3,2109.6 2836,2127 2831.9,2138.1C2827.9,2149.1 2822.2,2158 2817.6,2165.7C2813,2173.4 2810.3,2180.8 2804.3,2184.5C2798.3,2188.1 2788.8,2188.2 2781.7,2187.8C2774.6,2187.3 2766.5,2184.9 2761.8,2181.7C2757.1,2178.5 2754.6,2173.4 2753.3,2168.4C2751.9,2163.5 2752.3,2161.1 2753.8,2151.9C2755.3,2142.7 2759.9,2125.2 2762.4,2113.2C2764.8,2101.3 2766.9,2087.9 2768.7,2080.1C2770.5,2072.3 2767.1,2068.8 2773.4,2066.3Z" fill="url(#shoe)"/>
<path d="M2782.6107660455486,2077.349896480331 L2802.84126984127,2077.349896480331 Q2809.84126984127,2077.349896480331 2809.84126984127,2084.349896480331 L2808.84126984127,2101.2677708764663 Q2808.84126984127,2108.2677708764663 2801.84126984127,2108.2677708764663 L2781.6107660455486,2108.2677708764663 Q2774.6107660455486,2108.2677708764663 2774.6107660455486,2101.2677708764663 L2775.6107660455486,2084.349896480331 Q2775.6107660455486,2077.349896480331 2782.6107660455486,2077.349896480331Z" fill="url(#panel)"/>
<path d="M2775.5010351966876,2125.659075224293 L2798.080745341615,2125.659075224293 Q2807.080745341615,2125.659075224293 2807.080745341615,2134.659075224293 L2803.080745341615,2162.75983436853 Q2803.080745341615,2171.75983436853 2794.080745341615,2171.75983436853 L2771.5010351966876,2171.75983436853 Q2762.5010351966876,2171.75983436853 2762.5010351966876,2162.75983436853 L2766.5010351966876,2134.659075224293 Q2766.5010351966876,2125.659075224293 2775.5010351966876,2125.659075224293Z" fill="url(#panel)"/>
</g>
<g id="hairBack">
<path d="M2608.4,893.5C2606.1,885.7 2607.6,882.9 2609.3,876.8C2611,870.7 2614.4,863.2 2618.5,856.8C2622.5,850.4 2627.1,843.6 2633.5,838.4C2639.9,833.3 2648.8,828.5 2656.9,825.9C2664.9,823.2 2673.6,823 2681.9,822.6C2690.3,822.1 2698.6,822.4 2706.9,823.4C2715.3,824.4 2723.6,825.6 2732,828.4C2740.3,831.2 2750.5,834.8 2757,840.1C2763.6,845.4 2767.6,852.9 2771.2,860.1C2774.8,867.4 2777.1,875.7 2778.7,883.5C2780.3,891.3 2780.7,899.6 2780.7,906.9C2780.8,914.1 2779,920.8 2779.1,926.9C2779.1,933 2780.4,938.3 2781.2,943.6C2782.1,948.9 2783.9,953.6 2784.1,958.6C2784.2,963.6 2783.2,968.4 2782.1,973.6C2781,978.9 2778.8,984.5 2777.4,990C2776,995.5 2773.8,1001.1 2773.7,1006.7C2773.7,1012.3 2775.1,1018.7 2777.1,1023.4C2779,1028.1 2781.5,1031.5 2785.4,1035.1C2789.3,1038.7 2795.7,1041.5 2800.4,1045.1C2805.2,1048.7 2810.3,1052 2813.8,1056.8C2817.3,1061.5 2820.1,1068.9 2821.3,1073.5C2822.5,1078.1 2823.2,1084 2820.8,1084.3C2818.4,1084.6 2812.2,1078.6 2807.1,1075.1C2802,1071.7 2796,1066.8 2790.4,1063.5C2784.9,1060.1 2778.5,1058.2 2773.7,1055.1C2769,1052 2765.4,1049 2762,1045.1C2758.7,1041.2 2756.5,1036.2 2753.7,1031.7C2750.9,1027.3 2747.6,1023.1 2745.3,1018.4C2743.1,1013.7 2741.3,1008.3 2740.3,1003.4C2739.4,998.4 2745.1,996.4 2739.5,988.7C2733.9,980.9 2720.7,965 2706.9,956.9C2693.2,948.9 2670.8,945.8 2656.9,940.3C2642.9,934.7 2631.5,931.3 2623.5,923.6C2615.4,915.8 2610.8,901.3 2608.4,893.5Z" fill="url(#hairG)"/>
<path d="M2760.4,946.9C2764,945.8 2767.7,953.9 2770.4,958.6C2773,963.3 2775.1,970 2776.2,975.3C2777.3,980.6 2777.5,986.2 2777.1,990.3C2776.6,994.5 2775.7,996.5 2773.7,1000C2771.8,1003.6 2767,1007.5 2765.4,1011.7C2763.8,1015.9 2763.3,1020.3 2764,1025.1C2764.7,1029.8 2767.1,1034.8 2769.5,1040.1C2772,1045.4 2776.9,1053.3 2778.7,1056.8C2780.5,1060.3 2782.6,1061.8 2780.4,1061C2778.2,1060.1 2769.5,1055.5 2765.4,1051.8C2761.2,1048 2758.4,1043.1 2755.4,1038.4C2752.3,1033.7 2749.5,1028.7 2747,1023.4C2744.5,1018.1 2741.6,1012.3 2740.3,1006.7C2739.1,1001.1 2739.5,994.1 2739.5,990C2739.5,985.9 2738.8,986.1 2740.3,982C2741.9,977.9 2745.3,971.1 2748.7,965.3C2752,959.4 2756.8,948 2760.4,946.9Z" fill="url(#hairDark)"/>
<path d="M2772.4,999.2C2770.8,1000.3 2765.9,1009.6 2764.5,1015C2763.2,1020.5 2762.8,1026.7 2764.2,1031.7C2765.6,1036.7 2770.2,1040.4 2772.9,1045.1C2775.6,1049.8 2777.5,1057.1 2780.4,1060.1C2783.3,1063.2 2786,1061 2790.4,1063.5C2794.9,1066 2802,1071.7 2807.1,1075.1C2812.2,1078.6 2818.4,1084.6 2820.8,1084.3C2823.2,1084 2822.8,1078.1 2821.6,1073.5C2820.5,1068.9 2817.3,1061.5 2813.8,1056.8C2810.3,1052 2805.2,1048.7 2800.4,1045.1C2795.7,1041.5 2789.3,1038.7 2785.4,1035.1C2781.5,1031.5 2779,1027.8 2777.1,1023.4C2775.2,1018.9 2774.8,1012.4 2774.1,1008.4C2773.3,1004.3 2774,998.1 2772.4,999.2Z" fill="url(#hairLock2)"/>
<path d="M2611.8,970.3C2607.1,968.9 2600.1,974.5 2595.1,978.6C2590.1,982.8 2585,989.5 2581.7,995.3C2578.5,1001.2 2576.5,1009 2575.4,1013.7C2574.3,1018.4 2574.7,1019.8 2575.1,1023.4C2575.4,1027 2575.1,1035.1 2577.6,1035.1C2580.1,1035.1 2584.7,1026.7 2590.1,1023.4C2595.5,1020.1 2601.8,1015.9 2610.1,1015C2618.5,1014.2 2636.3,1020.9 2640.2,1018.4C2644.1,1015.9 2636.3,1005.2 2633.5,1000C2630.7,994.8 2627.1,991.9 2623.5,987C2619.9,982 2616.5,971.7 2611.8,970.3Z" fill="url(#hairL)"/>
<path d="M2614.3,982C2617.5,980.3 2622.8,984.4 2626.8,990.3C2630.8,996.3 2639.6,1013.4 2638.5,1017.9C2637.4,1022.3 2625.7,1017.8 2620.1,1017C2614.6,1016.3 2607.2,1016.2 2605.1,1013.4C2603,1010.6 2606.1,1005.6 2607.6,1000.4C2609.1,995.1 2611.1,983.7 2614.3,982Z" fill="url(#hairDk2)"/>
</g>
<g id="armL">
<path d="M2583.9,1110.1C2580.6,1109.3 2548.8,1099.5 2543.8,1100.9C2538.8,1102.3 2528.3,1121.8 2523.8,1126.8C2519.4,1131.7 2496,1155.5 2490.4,1160.2C2484.9,1164.9 2460.3,1181.1 2457,1183.2C2453.7,1185.3 2454.9,1184.4 2450.7,1184.9C2446.5,1185.3 2414.8,1188 2406.9,1188.5C2399.1,1189.1 2365.2,1191.5 2356.9,1191.9C2348.5,1192.3 2312.3,1193.8 2306.8,1193.6C2301.2,1193.3 2292.7,1190 2290.1,1188.5C2287.5,1187.1 2276.9,1175.6 2275.9,1176C2274.9,1176.4 2277.2,1190.7 2278.4,1193.6C2279.6,1196.4 2288.5,1207.5 2290.1,1210.3C2291.7,1213 2296.9,1224.4 2297.6,1226.9C2298.3,1229.4 2298,1239.5 2298.8,1240.3C2299.5,1241.1 2305.4,1237.4 2306.8,1237C2308.1,1236.5 2311,1234.8 2315.1,1234.6C2319.3,1234.4 2349.2,1234.4 2356.9,1234.5C2364.5,1234.5 2398.6,1235.2 2406.9,1235.3C2415.3,1235.4 2451.5,1235.4 2457,1235.3C2462.6,1235.2 2469.5,1234.9 2473.7,1233.6C2477.9,1232.4 2501.5,1223.2 2507.1,1220.3C2512.7,1217.3 2535.6,1202.9 2540.5,1198.6C2545.4,1194.3 2562.3,1173.9 2565.5,1168.5C2568.7,1163.1 2576.5,1136.9 2578.9,1133.5C2581.3,1130 2592.7,1127.3 2593.9,1126.8Z" fill="url(#armLG)"/>
</g>
<g id="ctrlL">
<path d="M2275.9,1257.8C2273.9,1262 2282.2,1269.9 2285.1,1275.4C2288,1280.8 2291.5,1287.5 2293.4,1290.4C2295.4,1293.2 2295.3,1292.2 2296.8,1292.4C2298.2,1292.6 2300.6,1292.9 2302.1,1291.7C2303.6,1290.6 2306,1289.5 2305.9,1285.4C2305.9,1281.3 2303.3,1272.9 2301.8,1267C2300.2,1261.2 2301.1,1251.8 2296.8,1250.3C2292.4,1248.8 2277.8,1253.7 2275.9,1257.8Z" fill="url(#stickG)"/>
<path d="M2228,1200C2228.4,1196.2 2230.9,1192.3 2233.8,1190C2236.6,1187.7 2240.2,1185.8 2245,1186.2C2249.8,1186.7 2256.2,1190.6 2262.5,1192.5C2268.8,1194.4 2277.1,1194.2 2282.5,1197.5C2287.9,1200.8 2292.3,1206.7 2295,1212.5C2297.7,1218.3 2298.5,1226.9 2298.8,1232.5C2299,1238.1 2298.5,1242.4 2296.2,1246.2C2294,1250.1 2289.4,1253.8 2285,1255.5C2280.6,1257.2 2274.6,1257.8 2270,1256.5C2265.4,1255.2 2262.1,1252.1 2257.5,1247.5C2252.9,1242.9 2246.9,1234.6 2242.5,1228.8C2238.1,1222.9 2233.7,1217.3 2231.2,1212.5C2228.8,1207.7 2227.6,1203.8 2228,1200Z" fill="url(#handLG)"/>
<path d="M2202.8,1151.1C2203.2,1148.8 2205.1,1148.5 2206.9,1148.2C2208.8,1148 2212.2,1146.9 2213.6,1149.4C2215,1152 2215.8,1160.9 2215.3,1163.6C2214.7,1166.3 2212.1,1165.9 2210.3,1165.6C2208.5,1165.3 2205.7,1164.4 2204.4,1161.9C2203.2,1159.5 2202.4,1153.4 2202.8,1151.1Z" fill="url(#tipG)"/>
<path d="M2210.3,1146.9C2211.8,1145.7 2219.2,1139.2 2223.6,1136.9C2228.1,1134.6 2242.8,1128.9 2248.7,1126.9C2254.5,1124.8 2268.9,1120.5 2273.7,1119.4C2278.6,1118.2 2287.3,1116.8 2290.4,1116.9C2293.5,1117 2298.8,1118.6 2300.4,1120.2C2302.1,1121.8 2304,1127.7 2304.6,1130.2C2305.2,1132.7 2305.9,1139.8 2305.4,1141.9C2305,1144 2302.6,1147 2300.4,1148.6C2298.3,1150.1 2289.8,1153.9 2287.1,1155.3C2284.4,1156.6 2278.7,1158.9 2277.1,1160.3C2275.4,1161.6 2273.3,1165.2 2272.9,1166.9C2272.5,1168.7 2272.8,1171.6 2273.7,1175.3C2274.6,1179 2283.3,1195.7 2280.4,1198.7C2277.5,1201.6 2253.4,1202.1 2248.7,1200.3C2244,1198.6 2242,1187.1 2240.3,1183.6C2238.7,1180.1 2235.9,1172.6 2234.5,1170.3C2233.1,1167.9 2231.1,1164.7 2228.6,1163.6C2226.2,1162.5 2215.8,1162.1 2213.6,1161.1C2211.5,1160.1 2210.7,1155.9 2210.3,1155.3Z" fill="url(#ctrlG)"/>
<circle cx="2285.4" cy="1134.4" r="8.7" fill="url(#tipG)"/><circle cx="2285.4" cy="1134.4" r="4.8" fill="#fb3a1c"/>
<rect x="2262.2" y="1174.0" width="8" height="22" rx="4" fill="#fff" transform="rotate(-17 2266.2 1185.0)"/>
<path d="M2274.2,1176C2274.4,1173 2278.3,1178.1 2281.7,1180.2C2285.2,1182.3 2290.4,1186.3 2295.1,1188.5C2299.8,1190.8 2308.2,1189.9 2310.1,1193.6C2312.1,1197.2 2309.3,1204.7 2306.8,1210.3C2304.3,1215.8 2297.9,1226.9 2295.1,1226.9C2292.3,1226.9 2292.4,1215 2290.1,1210.3C2287.7,1205.5 2283.5,1204.3 2280.9,1198.6C2278.3,1192.9 2274.1,1179.1 2274.2,1176Z" fill="#f8c4bb"/>
</g>
<g id="body">
<path d="M2595.1,1017.5C2597.8,1017.2 2609.1,1014.8 2615.1,1015C2621.1,1015.3 2634.6,1016.8 2640.2,1019.2C2645.7,1021.7 2652.4,1028.4 2656.9,1033.4C2661.3,1038.4 2666.9,1053.7 2673.6,1056.8C2680.2,1059.9 2698,1059 2706.9,1056.8C2715.8,1054.6 2735.3,1044.8 2740.3,1040.1C2745.3,1035.4 2742.7,1022.8 2744.5,1021.7C2746.3,1020.6 2751.4,1028.6 2753.7,1031.7C2756,1034.9 2759.4,1042 2762,1045.1C2764.7,1048.2 2769.9,1052.7 2773.7,1055.1C2777.5,1057.6 2786,1060.8 2790.4,1063.5C2794.9,1066.1 2803,1072.4 2807.1,1075.1C2811.2,1077.9 2816.9,1081.4 2821.3,1084.3C2825.8,1087.2 2836.2,1093.2 2840.5,1096.8C2844.8,1100.5 2851.3,1107.6 2853.9,1111.9C2856.4,1116.1 2859.3,1123.7 2859.7,1128.6C2860.1,1133.5 2858.6,1141.5 2857.2,1148.6C2855.7,1155.7 2851.1,1174.2 2848.8,1182C2846.6,1189.8 2842.4,1200.8 2840.5,1207C2838.6,1213.2 2835.9,1224.3 2834.7,1228.4C2833.4,1232.5 2832.8,1235.4 2831.3,1237.6C2829.9,1239.8 2825.4,1242.5 2823.8,1245.1C2822.2,1247.7 2820,1250.8 2819.1,1256.8C2818.2,1262.8 2817.3,1279 2817.1,1290.2C2817,1301.3 2817.5,1326.9 2818,1340.3C2818.4,1353.6 2819.2,1379.2 2820.5,1390.3C2821.7,1401.4 2825.4,1413.4 2827.1,1423.4C2828.9,1433.4 2832.1,1454.4 2833.8,1465.1C2835.6,1475.8 2839.6,1496.7 2840.2,1503.5C2840.7,1510.3 2840.2,1513.1 2838,1516C2835.8,1518.9 2830.2,1522.9 2823.8,1525.2C2817.5,1527.6 2799.3,1532 2790.4,1533.6C2781.5,1535.1 2765.9,1536.5 2757,1536.9C2748.1,1537.4 2732.5,1537.6 2723.6,1536.9C2714.7,1536.2 2699.2,1533.9 2690.3,1531.9C2681.3,1529.9 2668,1526.3 2656.9,1521.9C2645.7,1517.4 2619,1504.5 2606.8,1498.5C2594.5,1492.5 2571.8,1481.3 2565,1476.8C2558.3,1472.4 2557.2,1468.2 2555.9,1465.1C2554.5,1462 2554.5,1459 2555,1453.4C2555.6,1447.9 2558.5,1431.8 2560,1423.4C2561.6,1414.9 2565.2,1398.9 2566.7,1390C2568.3,1381.1 2570.2,1365.8 2571.7,1356.9C2573.3,1348.1 2576.6,1333.4 2578.4,1323.6C2580.2,1313.8 2584.6,1295.3 2585.1,1283.5C2585.5,1271.7 2583.2,1243.7 2581.7,1235.1C2580.2,1226.4 2576,1223 2573.9,1218.6C2571.7,1214.2 2566.8,1206.4 2565.5,1201.9C2564.3,1197.5 2564,1190.8 2564.7,1185.2C2565.4,1179.6 2568.4,1167.3 2570.6,1160.2C2572.7,1153 2581.2,1136.9 2580.6,1131.8C2579.9,1126.7 2569.1,1125.1 2565.5,1121.8C2562,1118.4 2556.1,1111 2553.9,1106.7C2551.6,1102.5 2549.5,1094.1 2548.8,1090.1C2548.2,1086 2548.1,1080.7 2549.2,1076.7C2550.3,1072.7 2555.5,1062.7 2557.2,1060C2558.9,1057.3 2559.5,1059.7 2561.7,1056.8C2563.9,1053.9 2570.5,1042.6 2573.4,1038.4C2576.3,1034.2 2582.1,1026.8 2583.4,1025.1Z" fill="url(#shirtG)"/>
<path d="M2595.1,1017.5C2597.3,1018.3 2607.3,1020.6 2611.8,1023.4C2616.2,1026.2 2628,1034 2628.5,1038.4C2628.9,1042.9 2618.9,1050.8 2615.1,1056.8C2611.3,1062.8 2603.7,1076.4 2600.1,1083.5C2596.5,1090.6 2590.9,1104.6 2588.4,1110.2C2586,1115.8 2582.8,1122.7 2581.7,1125.6C2580.7,1128.4 2582.7,1132.3 2580.6,1131.8C2578.4,1131.3 2569.1,1125.1 2565.5,1121.8C2562,1118.4 2556.1,1111 2553.9,1106.7C2551.6,1102.5 2549.5,1094.1 2548.8,1090.1C2548.2,1086 2548.1,1080.7 2549.2,1076.7C2550.3,1072.7 2555.5,1062.7 2557.2,1060C2558.9,1057.3 2559.5,1059.7 2561.7,1056.8C2563.9,1053.9 2570.5,1042.6 2573.4,1038.4C2576.3,1034.2 2582.1,1026.8 2583.4,1025.1Z" fill="url(#slvL)"/>
<path d="M2656.9,1200C2666.8,1200 2746.3,1197.7 2756.2,1200C2766,1202.4 2756.4,1217.7 2755.4,1223.4C2754.4,1229.1 2747.9,1250.6 2746.2,1256.8C2744.4,1263 2740.1,1282.2 2737.8,1285.2C2735.6,1288.1 2727.6,1286.7 2723.6,1286.5C2719.7,1286.3 2702.8,1285.1 2698.6,1283.5C2694.4,1281.9 2684.7,1273.6 2681.9,1270.1C2679.1,1266.6 2672.3,1253.1 2670.2,1248.4C2668.1,1243.8 2662,1225.9 2661,1223.4Z" fill="url(#shadeV)"/>
<path d="M2763.7,1150.3C2768.7,1149.4 2815.9,1141.1 2823.8,1140.3C2831.7,1139.4 2855.9,1136.8 2858,1140.3C2860.1,1143.7 2850.3,1176.4 2848.8,1182C2847.4,1187.6 2841.7,1203.2 2840.5,1207C2839.3,1210.9 2835.5,1225.9 2834.7,1228.4C2833.8,1230.9 2833.5,1236.5 2830.5,1237.2C2827.5,1238 2803.5,1238.4 2798.8,1237.6C2794,1236.8 2777.3,1229.4 2773.7,1227.6C2770.1,1225.7 2756.8,1218.2 2755.4,1215C2754,1211.9 2756.9,1192.1 2757,1190Z" fill="url(#shadeS)"/>
<path d="M2628.5,1038.4C2627.1,1040.3 2618,1052.3 2615.1,1056.8C2612.3,1061.3 2602.8,1078.1 2600.1,1083.5C2597.4,1088.8 2590.3,1106 2588.4,1110.2C2586.6,1114.4 2582.5,1123.4 2581.7,1125.6C2581,1127.7 2581.7,1128.3 2580.6,1131.8C2579.4,1135.2 2572.1,1154.8 2570.6,1160.2C2569,1165.5 2565.2,1181 2564.7,1185.2C2564.2,1189.4 2564.6,1198.6 2565.5,1201.9C2566.5,1205.2 2572.1,1215.3 2573.9,1218.6C2575.7,1221.9 2582.7,1231.1 2583.9,1235.3C2585.1,1239.5 2578.3,1263.2 2585.6,1260.3C2592.9,1257.5 2649.7,1222.4 2656.9,1207C2664,1191.7 2656.9,1116.9 2656.9,1106.9Z" fill="url(#shadeL)"/>
<path d="M2544.5,1097.1C2547.2,1102.2 2545.4,1103.8 2552.5,1112.4C2559.6,1121 2556.1,1117.2 2565.9,1122.9C2575.7,1128.7 2576.6,1127.5 2581.9,1129.8" fill="none" stroke="#fff" stroke-width="9"/>
<path d="M2797.9,1131.9C2796.8,1126.3 2799.2,1120.6 2802.1,1116.9C2805,1113.2 2810.5,1110.4 2815.5,1109.9C2820.5,1109.3 2827.3,1110.4 2832.2,1113.5C2837,1116.7 2842.2,1123.3 2844.7,1128.6C2847.1,1133.9 2847.8,1140.5 2846.8,1145.3C2845.9,1150 2842.7,1154.9 2838.8,1156.9C2835,1159 2828.8,1158.9 2823.8,1157.8C2818.8,1156.7 2813.1,1154.6 2808.8,1150.3C2804.5,1146 2799,1137.5 2797.9,1131.9Z" fill="url(#decG)"/>
<path d="M2642.7,1121.9C2644.3,1116.7 2651.7,1106.5 2656.9,1102.2C2662,1097.9 2668,1096.8 2673.6,1096.2C2679.1,1095.6 2684.7,1096.5 2690.3,1098.5C2695.8,1100.6 2701.4,1104.9 2706.9,1108.5C2712.5,1112.1 2718.6,1117.9 2723.6,1120.2C2728.6,1122.6 2733.1,1123.3 2737,1122.7C2740.9,1122.2 2744.6,1119.5 2747,1116.9C2749.4,1114.2 2751.1,1110.5 2751.2,1106.9C2751.2,1103.2 2747.9,1098.3 2747.3,1095.2C2746.8,1092.1 2746.2,1089.2 2747.8,1088.2C2749.5,1087.1 2753.8,1087.1 2757,1088.8C2760.2,1090.6 2764.4,1094.1 2767,1098.5C2769.7,1102.9 2772.1,1109.6 2772.9,1115.2C2773.7,1120.8 2773.6,1126.3 2772.1,1131.9C2770.5,1137.5 2767.3,1143.6 2763.7,1148.6C2760.1,1153.6 2754.8,1158.8 2750.4,1162C2745.9,1165.2 2741.4,1167 2737,1167.8C2732.5,1168.6 2728.6,1168.2 2723.6,1167C2718.6,1165.7 2712.5,1162.6 2706.9,1160.3C2701.4,1157.9 2695.8,1153.3 2690.3,1152.8C2684.7,1152.2 2679.1,1157.6 2673.6,1156.9C2668,1156.2 2661.3,1152.5 2656.9,1148.6C2652.4,1144.7 2649.2,1138 2646.8,1133.6C2644.5,1129.1 2641,1127.1 2642.7,1121.9Z" fill="url(#decG2)"/>
</g>
<g id="hair">
<path d="M2683.6,828.4C2683.9,821.6 2692.5,822.7 2698.6,820.9C2704.7,819.1 2714.2,817.8 2720.3,817.5C2726.4,817.3 2730.3,817.4 2735.3,819.2C2740.3,821 2745.6,825.2 2750.4,828.4C2755.1,831.6 2760.4,835.1 2763.7,838.4C2767,841.8 2769,843.4 2770.4,848.4C2771.7,853.4 2772.8,867.1 2771.7,868.5C2770.6,869.9 2767,861 2763.7,856.8C2760.4,852.6 2757,846.5 2752,843.4C2747,840.3 2739.5,838.2 2733.7,838.1C2727.8,837.9 2721.7,840 2717,842.6C2712.2,845.1 2708.6,850.2 2705.3,853.4C2701.9,856.6 2700.5,866 2696.9,861.8C2693.3,857.6 2683.3,835.2 2683.6,828.4Z" fill="url(#strapTopR)"/>
<path d="M2681.9,829.2C2680.6,830.8 2656.3,859 2655.2,861C2654.1,862.9 2658.7,867.8 2660.2,868.5C2661.7,869.1 2683.4,874.6 2685.2,874.3C2687.1,874 2696.8,862.8 2697.8,861.8C2698.8,860.7 2704.9,853.9 2705.3,853.4Z" fill="url(#strapTop)"/>
<path d="M2621.5,852.1C2622,849.6 2623.3,844.7 2626,842.6C2628.7,840.5 2635.3,838.2 2637.7,839.4C2640,840.7 2638.4,846.6 2640.2,850.1C2642,853.6 2645.2,857.1 2648.5,860.1C2651.9,863.2 2656,865.9 2660.2,868.5C2664.4,871 2668.5,873.1 2673.6,875.5C2678.6,877.8 2684.7,880.8 2690.3,882.7C2695.8,884.5 2701.4,886 2706.9,886.8C2712.5,887.7 2718.1,888.2 2723.6,887.7C2729.2,887.1 2735.7,885.4 2740.3,883.5C2745,881.6 2749.7,877 2751.7,876.5C2753.7,875.9 2753.1,878.1 2752.4,880.2C2751.6,882.2 2750.4,886 2747,888.8C2743.6,891.6 2737.3,895 2732,896.8C2726.7,898.7 2720.9,899.5 2715.3,900.2C2709.7,900.9 2704.2,901.4 2698.6,901C2693,900.6 2686.5,898.6 2681.9,897.7C2677.3,896.8 2674,894.8 2671.1,895.5C2668.1,896.2 2666.1,899.3 2664.4,901.9C2662.6,904.4 2663.5,910.8 2660.5,911C2657.6,911.3 2651.4,906.3 2646.8,903.5C2642.3,900.7 2634,898.1 2633.5,894.3C2632.9,890.6 2642.4,884.5 2643.5,881C2644.6,877.5 2642.4,876.1 2640.2,873.5C2637.9,870.8 2633,867.8 2630.2,865.1C2627.3,862.5 2624.4,859.8 2623,857.6C2621.5,855.4 2621,854.6 2621.5,852.1Z" fill="url(#strapSide)"/>
<path d="M2671.1,895.5C2672.9,897.7 2666.1,899.3 2664.4,901.9C2662.6,904.4 2663.5,910.8 2660.5,911C2657.6,911.3 2651.4,906.3 2646.8,903.5C2642.3,900.7 2634,898.1 2633.5,894.3C2632.9,890.6 2640.2,882 2643.5,881C2646.8,880 2648.9,886.1 2653.5,888.5C2658.1,890.9 2669.2,893.3 2671.1,895.5Z" fill="url(#strapLeg)"/>
<rect x="2663.9" y="838.4" width="42" height="15" rx="4.5" fill="#6d6475" stroke="#fff" stroke-width="5" transform="rotate(34 2684.9 845.9)"/>
</g>
<g id="head">
<path d="M2738.7,982C2736,980.9 2731.7,994 2723.6,1000.4C2715.6,1006.8 2700.8,1015.4 2690.3,1020.4C2679.7,1025.4 2665.8,1028.5 2660.2,1030.4C2654.6,1032.3 2657.7,1027.3 2656.9,1031.7C2656,1036.1 2656,1049.8 2655.2,1056.8C2654.4,1063.7 2651.9,1068.7 2652.2,1073.5C2652.5,1078.2 2653.3,1082.2 2656.9,1085.2C2660.4,1088.1 2668,1090.2 2673.6,1091C2679.1,1091.8 2684.7,1090.9 2690.3,1090.2C2695.8,1089.5 2701.4,1088.5 2706.9,1086.8C2712.5,1085.2 2718.6,1082.9 2723.6,1080.2C2728.6,1077.4 2733.1,1074 2737,1070.1C2740.9,1066.2 2745.2,1061.8 2747,1056.8C2748.8,1051.8 2748.5,1045.6 2747.8,1040.1C2747.2,1034.5 2744.2,1029 2742.8,1023.4C2741.4,1017.8 2740.2,1013.6 2739.5,1006.7C2738.8,999.8 2741.3,983 2738.7,982Z" fill="url(#neckG)"/>
<path d="M2704.4,944.4C2718.4,942.1 2731.6,942.8 2740.3,942.8C2749.1,942.8 2753.3,943.2 2757,944.4C2760.8,945.7 2762,946.5 2762.9,950.3C2763.7,954 2763.3,962.5 2762,967C2760.8,971.4 2759,973.9 2755.4,977C2751.7,980 2743.4,983.2 2740.3,985.3C2737.3,987.5 2739.8,986.4 2737,990C2734.2,993.6 2728.6,1001.7 2723.6,1006.7C2718.6,1011.7 2712.5,1016.4 2706.9,1020.1C2701.4,1023.7 2695.8,1026.4 2690.3,1028.4C2684.7,1030.3 2679.1,1031.5 2673.6,1031.7C2668,1032 2661.9,1031.7 2656.9,1030.1C2651.9,1028.4 2647.4,1025.3 2643.5,1021.7C2639.6,1018.1 2636.5,1013.1 2633.5,1008.4C2630.4,1003.6 2626.7,997.7 2625.1,993.3C2623.6,988.9 2619,988.1 2624.3,982C2629.6,975.9 2643.5,963.2 2656.9,956.9C2670.2,950.7 2690.5,946.8 2704.4,944.4Z" fill="url(#faceG)"/>
<path d="M2737.8,983.7C2736.7,980.7 2736.6,972 2737,967C2737.4,962 2738.4,957.1 2740.3,953.6C2742.3,950.1 2745.6,947.2 2748.7,946.1C2751.7,945 2756.3,945.4 2758.7,946.9C2761.1,948.5 2762.6,951.9 2762.9,955.3C2763.1,958.6 2762.2,963.3 2760.4,967C2758.6,970.6 2754.8,974.1 2752,977C2749.2,979.9 2746,983.4 2743.7,984.5C2741.3,985.6 2738.9,986.6 2737.8,983.7Z" fill="#f9b3af"/>
<path d="M2739.5,972C2739.2,969.2 2739.9,962 2741.2,958.6C2742.4,955.3 2745.1,952.6 2747,951.9C2749,951.2 2751.7,952.8 2752.9,954.4C2754,956.1 2754.4,959.3 2753.7,962C2753,964.6 2750.5,968.1 2748.7,970.3C2746.9,972.5 2744.4,975 2742.8,975.3C2741.3,975.6 2739.8,974.8 2739.5,972Z" fill="#f29896"/>
<circle cx="2738.7" cy="982.0" r="5.5" fill="#fff"/>
</g>
<g id="decor">
<path d="M2697.8,1068.5C2696.9,1064.6 2699.6,1060.1 2701.9,1057.6C2704.3,1055.1 2708.5,1053.3 2712,1053.4C2715.4,1053.6 2719.9,1055.7 2722.8,1058.4C2725.7,1061.2 2728.6,1066.4 2729.5,1070.1C2730.3,1073.9 2729.6,1078.5 2727.8,1081C2726,1083.5 2722.1,1085.2 2718.6,1085.2C2715.2,1085.2 2710.4,1083.8 2706.9,1081C2703.5,1078.2 2698.6,1072.4 2697.8,1068.5Z" fill="url(#decG)"/>
</g>
<g id="vr">
<path d="M2561.7,906.9C2561.9,905.9 2562.2,899.3 2563.4,897.7C2564.5,896 2570.7,892 2573.4,890.2C2576.1,888.3 2587.8,880.7 2590.1,879.3C2592.3,878 2594.8,876.9 2595.9,876.8C2597.1,876.7 2591.7,872.8 2601.8,878.5C2611.9,884.2 2686.7,927.4 2696.9,933.6C2707.1,939.7 2702.8,938.6 2703.6,940.3C2704.4,941.9 2705.1,944.4 2705.3,950.3C2705.4,956.1 2705.8,993.2 2705.3,998.7C2704.8,1004.2 2703.4,1003.6 2700.3,1005.4C2697.1,1007.1 2676.9,1015.4 2673.6,1016.2C2670.2,1017 2676.9,1019.6 2666.9,1013.7C2656.9,1007.8 2583.7,963.6 2573.4,956.9C2563,950.3 2564.5,948.9 2563.4,946.9C2562.2,944.9 2561.9,937.9 2561.7,936.9Z" fill="url(#vrTop)"/>
<path d="M2681.9,958.6C2683.6,957 2700.8,940.1 2702.8,939.4C2704.7,938.7 2705.1,945.3 2705.3,950.3C2705.5,955.2 2705.7,994.1 2705.3,998.7C2704.9,1003.3 2702.9,1003.9 2700.3,1005.4C2697.6,1006.8 2675.2,1016.1 2673.6,1016.2C2671.9,1016.3 2679.7,1007.8 2680.2,1007Z" fill="url(#vrSide)"/>
<path d="M2561.7,906.9C2561.9,906 2562.5,899.8 2563.4,898.5C2564.2,897.2 2568.5,893.8 2570.1,893.5C2571.6,893.2 2568,889.5 2578.4,895.2C2588.7,900.9 2663.3,944.1 2673.6,950.3C2683.8,956.4 2680.2,955.3 2681.1,956.9C2681.9,958.6 2682.2,962.1 2682.2,967C2682.3,971.8 2682.3,1000.8 2681.9,1005.4C2681.5,1009.9 2679.7,1012 2678.6,1012.9C2677.4,1013.8 2680.7,1020.1 2670.2,1014.5C2659.7,1008.9 2584.1,963.7 2573.4,956.9C2562.7,950.2 2564.5,948.9 2563.4,946.9C2562.2,944.9 2561.9,937.9 2561.7,936.9Z" fill="url(#vrFront)"/>
<line x1="2578.7" y1="918.5" x2="2657.7" y2="960.6" stroke="url(#vrStrip)" stroke-width="9" stroke-linecap="round"/>
</g>
<g id="armRback">
<path d="M2595.6,1220.3C2590.7,1221.7 2586.5,1239.5 2582.2,1248.6C2577.9,1257.8 2571.5,1269.5 2569.7,1275.4C2567.9,1281.2 2570,1281.8 2571.4,1283.7C2572.8,1285.6 2575.8,1286.5 2578.1,1286.5C2580.3,1286.5 2581.3,1288.1 2584.7,1283.7C2588.2,1279.3 2594.5,1267.6 2598.9,1260.3C2603.4,1253.1 2612,1247 2611.5,1240.3C2610.9,1233.6 2600.5,1218.9 2595.6,1220.3Z" fill="url(#stickG)"/>
</g>
<g id="armR">
<path d="M2752,1223.4C2751.2,1227.3 2747.1,1249 2745.3,1256.8C2743.6,1264.6 2738.9,1282.4 2737,1290.2C2735,1298 2730,1317.7 2728.6,1323.6C2727.3,1329.4 2727.8,1334.4 2725.3,1340.3C2722.8,1346.1 2710.1,1365.9 2706.9,1373.6C2703.8,1381.4 2697.6,1400.9 2698.6,1406.7C2699.6,1412.5 2711.4,1420.6 2715.3,1423.4C2719.2,1426.2 2728.1,1430.7 2732,1430.9C2735.9,1431.1 2745.6,1427.9 2748.7,1425.1C2751.8,1422.2 2756.8,1410.2 2758.7,1406.7C2760.6,1403.2 2762.6,1401.1 2765.4,1395.3C2768.1,1389.5 2778,1366.1 2782.1,1356.9C2786.2,1347.8 2796.7,1326.2 2800.4,1316.9C2804.1,1307.5 2811.6,1284.5 2813.8,1276.8C2816,1269.1 2818,1255.2 2819.1,1250.9C2820.3,1246.6 2823.3,1241.3 2823.8,1240.1Z" fill="url(#armRU)"/>
<path d="M2662.7,1183.3C2662.3,1186 2659,1202.4 2658.9,1206.7C2658.8,1211 2660.2,1215.8 2661.9,1220.1C2663.6,1224.3 2670.2,1236.8 2673.6,1243.4C2676.9,1250 2686.4,1269.4 2690.3,1276.8C2694.1,1284.2 2702.9,1299.5 2706.9,1306.9C2711,1314.3 2721.4,1332.5 2725.3,1340.3C2729.2,1348 2737.6,1363.7 2740.3,1373.6C2743.1,1383.5 2749.7,1418.4 2748.7,1425.1C2747.7,1431.7 2735.9,1430.8 2732,1430.9C2728.1,1431 2719.2,1428.1 2715.3,1425.9C2711.4,1423.7 2701.9,1415.9 2698.6,1411.7C2695.3,1407.6 2689.4,1396.7 2686.9,1390.3C2684.4,1383.9 2679.2,1364.7 2676.9,1356.9C2674.6,1349.2 2669.2,1331.3 2666.9,1323.6C2664.5,1315.8 2659.2,1297 2656.9,1290.2C2654.5,1283.4 2649.6,1269.6 2646.8,1265.1C2644.1,1260.6 2637.2,1254.1 2633.5,1251.8C2629.8,1249.4 2618.6,1247.2 2615.1,1245.1C2611.6,1242.9 2605.6,1236.5 2603.4,1233.4C2601.3,1230.3 2597.8,1222.3 2596.8,1218.4C2595.7,1214.5 2594.4,1204.1 2594.3,1200C2594.2,1195.9 2595.7,1185.3 2595.9,1183.3Z" fill="url(#armRF)"/>
<path d="M2754,1218.4C2760.6,1222.8 2759.4,1224.2 2773.7,1231.7C2788.1,1239.2 2780.4,1236.6 2797.1,1240.9C2813.8,1245.3 2812.4,1244.2 2823.8,1244.8C2835.2,1245.3 2828.8,1243.3 2831.3,1242.6" fill="none" stroke="#fff" stroke-width="10"/>
<path d="M2595.9,1227.1C2584.7,1220.9 2595,1200.6 2596.8,1190.3C2598.6,1180 2603.7,1170.6 2606.8,1165.3C2609.8,1160 2612.3,1158.9 2615.1,1158.6C2617.9,1158.3 2621,1159.7 2623.5,1163.6C2626,1167.5 2627.4,1175.9 2630.2,1182C2632.9,1188.1 2636.3,1197.6 2640.2,1200.4C2644.1,1203.1 2649.6,1197.6 2653.5,1198.7C2657.4,1199.8 2661.7,1202.3 2663.5,1207C2665.3,1211.8 2675.6,1223.7 2664.4,1227.1C2653.1,1230.4 2607.2,1233.2 2595.9,1227.1Z" fill="url(#handRG)"/>
<path d="M2594.8,1198.6C2594.2,1193 2594.1,1190.5 2595.6,1185.2C2597.1,1179.9 2600.3,1171.3 2603.9,1166.8C2607.6,1162.4 2613.8,1159.6 2617.3,1158.5C2620.8,1157.4 2622.6,1157.1 2624.8,1160.2C2627,1163.2 2628,1171.3 2630.7,1176.9C2633.3,1182.4 2636.2,1188 2640.7,1193.6C2645.1,1199.1 2651.8,1201.9 2657.4,1210.3C2662.9,1218.6 2674.1,1232.5 2674.1,1243.6C2674.1,1254.8 2662.4,1274.2 2657.4,1277C2652.4,1279.8 2649.6,1264.5 2644,1260.3C2638.4,1256.2 2630.1,1256.2 2624,1252C2617.9,1247.8 2611.5,1240.9 2607.3,1235.3C2603.1,1229.7 2601,1224.7 2598.9,1218.6C2596.8,1212.5 2595.3,1204.1 2594.8,1198.6Z" fill="url(#handRG)"/>
</g>
<g id="ctrlR">
<path d="M2618.5,1128.6C2618.5,1126.2 2620.1,1123.3 2621.8,1121.9C2623.5,1120.5 2626.9,1119.9 2628.5,1120.2C2630.1,1120.5 2631.8,1120.8 2631.5,1123.6C2631.2,1126.3 2628.4,1134.8 2626.8,1136.9C2625.2,1139 2623.2,1137.5 2621.8,1136.1C2620.4,1134.7 2618.5,1130.9 2618.5,1128.6Z" fill="url(#tipG)"/>
<path d="M2626.8,1123.6C2628.4,1123.9 2636.7,1124.9 2640.2,1126.9C2643.7,1128.8 2652,1136.7 2656.9,1140.3C2661.7,1143.8 2677.6,1153.2 2681.9,1156.9C2686.2,1160.6 2692.1,1168.5 2693.6,1172C2695.1,1175.5 2695.2,1183.9 2694.4,1187C2693.6,1190.1 2689.3,1197.5 2686.9,1198.7C2684.5,1199.8 2677.1,1198.2 2673.6,1197C2670.1,1195.8 2659.7,1188.9 2656.9,1188.7C2654,1188.5 2650.9,1193.4 2649.3,1195.3C2647.8,1197.3 2644.8,1204.6 2643.5,1205.4C2642.2,1206.1 2640.1,1203.8 2638.5,1202C2636.9,1200.3 2632.1,1193.6 2630.2,1190.3C2628.2,1187 2622.6,1176.8 2621.8,1173.6C2621,1170.5 2622.5,1166.3 2623.5,1163.6C2624.4,1160.9 2629.3,1152.6 2630.2,1150.3C2631,1147.9 2632,1145.3 2631,1143.6C2630,1141.8 2622.9,1136.2 2621.8,1135.2Z" fill="url(#ctrlG)"/>
<circle cx="2677.7" cy="1178.6" r="8.7" fill="url(#tipG)"/><circle cx="2677.7" cy="1178.6" r="4.8" fill="#fb3a1c"/>
<path d="M2637.7,1184.5C2638.1,1184.7 2645.4,1188.7 2645.5,1189.5C2645.6,1190.3 2640.8,1200.4 2640.2,1200.7C2639.5,1200.9 2633,1194.8 2632.7,1194.5Z" fill="#fff"/>
<path d="M2640.2,1200.7C2642.4,1199.8 2644.1,1208.3 2646.8,1207C2649.6,1205.7 2653.9,1192.8 2656.9,1192.8C2659.8,1192.8 2663.3,1201.3 2664.4,1207C2665.5,1212.7 2667.6,1223.7 2663.5,1227.1C2659.5,1230.4 2645.2,1229.6 2640.2,1227.1C2635.2,1224.6 2633.5,1216.4 2633.5,1212C2633.5,1207.6 2637.9,1201.5 2640.2,1200.7Z" fill="#f8c2b9"/>
</g>
<g id="axes">
<line x1="2856.0" y1="658.0" x2="2840.0" y2="573.0" stroke="#566080" stroke-width="12" stroke-linecap="round"/>
<line x1="2856.0" y1="658.0" x2="2973.0" y2="697.0" stroke="#566080" stroke-width="12" stroke-linecap="round"/>
<line x1="2856.0" y1="658.0" x2="2770.0" y2="737.0" stroke="#566080" stroke-width="12" stroke-linecap="round"/>
<text x="2829.0" y="513.0" font-size="65" font-weight="700" fill="#0ba84f" text-anchor="middle" dominant-baseline="central" transform="rotate(-11 2829.0 513.0)">Y</text>
<text x="3024.0" y="703.0" font-size="65" font-weight="700" fill="#fb0007" text-anchor="middle" dominant-baseline="central" transform="rotate(-21 3024.0 703.0)">X</text>
<text x="2726.0" y="755.0" font-size="65" font-weight="700" fill="#0433ff" text-anchor="middle" dominant-baseline="central" transform="rotate(-15 2726.0 755.0)">Z</text>
<line x1="4034.0" y1="1946.0" x2="4034.0" y2="1789.0" stroke="#566080" stroke-width="15" stroke-linecap="round"/>
<line x1="4034.0" y1="1946.0" x2="4193.0" y2="2058.0" stroke="#566080" stroke-width="15" stroke-linecap="round"/>
<line x1="4034.0" y1="1946.0" x2="3882.0" y2="2058.0" stroke="#566080" stroke-width="15" stroke-linecap="round"/>
<text x="4033.0" y="1704.0" font-size="88" font-weight="700" fill="#0ba84f" text-anchor="middle" dominant-baseline="central" transform="rotate(0 4033.0 1704.0)">Y</text>
<text x="4251.0" y="2085.0" font-size="88" font-weight="700" fill="#fb0007" text-anchor="middle" dominant-baseline="central" transform="rotate(0 4251.0 2085.0)">X</text>
<text x="3822.0" y="2085.0" font-size="88" font-weight="700" fill="#0433ff" text-anchor="middle" dominant-baseline="central" transform="rotate(0 3822.0 2085.0)">Z</text>
<line x1="2340.0" y1="1296.0" x2="2330.5" y2="1265.0" stroke="#566080" stroke-width="3" stroke-linecap="round"/>
<line x1="2340.0" y1="1296.0" x2="2380.5" y2="1305.5" stroke="#566080" stroke-width="3" stroke-linecap="round"/>
<line x1="2340.0" y1="1296.0" x2="2320.0" y2="1327.5" stroke="#566080" stroke-width="3" stroke-linecap="round"/>
<text x="2323.7" y="1248.7" font-size="17" font-weight="700" fill="#0ba84f" text-anchor="middle" dominant-baseline="central" transform="rotate(-20 2323.7 1248.7)">Y</text>
<text x="2393.7" y="1307.5" font-size="17" font-weight="700" fill="#fb0007" text-anchor="middle" dominant-baseline="central" transform="rotate(-25 2393.7 1307.5)">X</text>
<text x="2311.0" y="1337.5" font-size="17" font-weight="700" fill="#0433ff" text-anchor="middle" dominant-baseline="central" transform="rotate(-20 2311.0 1337.5)">Z</text>
<line x1="2536.0" y1="1348.7" x2="2551.0" y2="1312.5" stroke="#566080" stroke-width="3" stroke-linecap="round"/>
<line x1="2536.0" y1="1348.7" x2="2556.0" y2="1376.0" stroke="#566080" stroke-width="3" stroke-linecap="round"/>
<line x1="2536.0" y1="1348.7" x2="2497.5" y2="1354.5" stroke="#566080" stroke-width="3" stroke-linecap="round"/>
<text x="2560.0" y="1297.0" font-size="17" font-weight="700" fill="#0ba84f" text-anchor="middle" dominant-baseline="central" transform="rotate(25 2560.0 1297.0)">Y</text>
<text x="2564.0" y="1386.5" font-size="17" font-weight="700" fill="#fb0007" text-anchor="middle" dominant-baseline="central" transform="rotate(30 2564.0 1386.5)">X</text>
<text x="2485.0" y="1355.0" font-size="17" font-weight="700" fill="#0433ff" text-anchor="middle" dominant-baseline="central" transform="rotate(20 2485.0 1355.0)">Z</text>
</g>

<g id="arrows" opacity="0.8">
<polyline points="2436.9,207.2 2409.3,223.5 2436.9,239.8" fill="none" stroke="url(#arrH1)" stroke-width="6.6" stroke-linecap="round" stroke-linejoin="miter" stroke-miterlimit="10"/>
<polyline points="2625.1,223.5 2625.1,924.0" fill="none" stroke="#8c7ee5" stroke-width="6.6" stroke-linejoin="miter"/>
<line x1="2409.3" y1="223.5" x2="2628.4" y2="223.5" stroke="url(#arrH1)" stroke-width="6.6"/>
<polyline points="2504.2,536.1 2476.6,552.4 2504.2,568.7" fill="none" stroke="url(#arrH2)" stroke-width="6.6" stroke-linecap="round" stroke-linejoin="miter" stroke-miterlimit="10"/>
<polyline points="2583.7,552.4 2583.7,904.0" fill="none" stroke="#8c7ee5" stroke-width="6.6" stroke-linejoin="miter"/>
<line x1="2476.6" y1="552.4" x2="2587.0" y2="552.4" stroke="url(#arrH2)" stroke-width="6.6"/>
<polyline points="1553.9,1825.7 1526.3,1842.0 1553.9,1858.3" fill="none" stroke="url(#arrH3)" stroke-width="6.6" stroke-linecap="round" stroke-linejoin="miter" stroke-miterlimit="10"/>
<polyline points="2295.5,1842.0 2295.5,1291.0" fill="none" stroke="#8c7ee5" stroke-width="6.6" stroke-linejoin="miter"/>
<line x1="1526.3" y1="1842.0" x2="2298.8" y2="1842.0" stroke="url(#arrH3)" stroke-width="6.6"/>
<polyline points="822.8,2116.9 806.5,2089.3 790.2,2116.9" fill="none" stroke="url(#arrV4)" stroke-width="6.6" stroke-linecap="round" stroke-linejoin="miter" stroke-miterlimit="10"/>
<polyline points="806.5,2251.5 2408.0,2251.5" fill="none" stroke="#8c7ee5" stroke-width="6.6" stroke-linejoin="miter"/>
<line x1="806.5" y1="2089.3" x2="806.5" y2="2254.8" stroke="url(#arrV4)" stroke-width="6.6"/>
</g>

<g id="arrow-stereo" opacity="0.8">
<polyline points="1319.5,917.4 1291.9,933.7 1319.5,950.0" fill="none" stroke="url(#arrV5)" stroke-width="6.6" stroke-linecap="round" stroke-linejoin="miter" stroke-miterlimit="10"/>
<line x1="1291.9" y1="933.7" x2="2603" y2="933.7" stroke="#c367d3" stroke-width="6.6"/>
</g>

<g id="text">
<text x="687.5" y="204.5" font-size="72.5" font-weight="700" stroke="#000" stroke-width="1.0" text-anchor="middle" textLength="841.0" lengthAdjust="spacing" fill="#000">Stereo Vision Rendering</text>
<text x="689.0" y="299" font-size="64.5" stroke="#000" stroke-width="0.9" text-anchor="middle" textLength="816.0" lengthAdjust="spacing" fill="#000">Depth illusion created by the</text>
<text x="688.0" y="376.3" font-size="64.5" stroke="#000" stroke-width="0.9" text-anchor="middle" textLength="1032.0" lengthAdjust="spacing" fill="#000">“parallax” difference—rendering two</text>
<text x="686.0" y="453.6" font-size="64.5" stroke="#000" stroke-width="0.9" text-anchor="middle" textLength="1098.0" lengthAdjust="spacing" fill="#000">separate images, one for each display,</text>
<text x="688.5" y="531" font-size="64.5" stroke="#000" stroke-width="0.9" text-anchor="middle" textLength="867.0" lengthAdjust="spacing" fill="#000">at 72-120+ frames per second</text>
<text x="1915.0" y="204" font-size="72.5" font-weight="700" stroke="#000" stroke-width="1.0" text-anchor="middle" textLength="578.0" lengthAdjust="spacing" fill="#000">RGB-D Cameras</text>
<text x="1913.5" y="299" font-size="64.5" stroke="#000" stroke-width="0.9" text-anchor="middle" textLength="881.0" lengthAdjust="spacing" fill="#000">Tracking head position (X, Y, Z)</text>
<text x="1930.5" y="534" font-size="72.5" font-weight="700" stroke="#000" stroke-width="1.0" text-anchor="middle" textLength="447.0" lengthAdjust="spacing" fill="#000">IMU Sensors</text>
<text x="1929.5" y="626" font-size="64.5" stroke="#000" stroke-width="0.9" text-anchor="middle" textLength="963.0" lengthAdjust="spacing" fill="#000">Tracking head rotation (R<tspan font-size="42" dy="15" dx="-5">X</tspan><tspan dy="-15" dx="-3">, R</tspan><tspan font-size="42" dy="15" dx="-5">Y</tspan><tspan dy="-15" dx="-3">, R</tspan><tspan font-size="42" dy="15" dx="-5">Z</tspan><tspan dy="-15" dx="-4">)</tspan></text>
<text x="805.5" y="1690" font-size="72.5" font-weight="700" stroke="#000" stroke-width="1.0" text-anchor="middle" textLength="495.0" lengthAdjust="spacing" fill="#000">Beyond Vision</text>
<text x="805.0" y="1784" font-size="64.5" stroke="#000" stroke-width="0.9" text-anchor="middle" textLength="1122.0" lengthAdjust="spacing" fill="#000">Controller and hand tracking for natural</text>
<text x="805.0" y="1861" font-size="64.5" stroke="#000" stroke-width="0.9" text-anchor="middle" textLength="1352.0" lengthAdjust="spacing" fill="#000">interaction with virtual objects, 3D spatial audio</text>
<text x="804.0" y="1938" font-size="64.5" stroke="#000" stroke-width="0.9" text-anchor="middle" textLength="1260.0" lengthAdjust="spacing" fill="#000">depending on head orientation and position,</text>
<text x="804.5" y="2015" font-size="64.5" stroke="#000" stroke-width="0.9" text-anchor="middle" textLength="1231.0" lengthAdjust="spacing" fill="#000">room scale mapping for natural locomotion</text>
<text x="3078.5" y="378" font-size="63" font-weight="700" stroke="#000" stroke-width="1.0" text-anchor="middle" textLength="157.0" lengthAdjust="spacing" fill="#000">Head</text>
<text x="3078.0" y="454.5" font-size="63" font-weight="700" stroke="#000" stroke-width="1.0" text-anchor="middle" textLength="336.0" lengthAdjust="spacing" fill="#000">Coordinate</text>
<text x="3077.5" y="531.6" font-size="63" font-weight="700" stroke="#000" stroke-width="1.0" text-anchor="middle" textLength="225.0" lengthAdjust="spacing" fill="#000">System</text>
<text x="4025.0" y="1391" font-size="72" font-weight="700" stroke="#000" stroke-width="1.0" text-anchor="middle" textLength="202.0" lengthAdjust="spacing" fill="#000">World</text>
<text x="4024.5" y="1479" font-size="72" font-weight="700" stroke="#000" stroke-width="1.0" text-anchor="middle" textLength="387.0" lengthAdjust="spacing" fill="#000">Coordinate</text>
<text x="4024.0" y="1568" font-size="72" font-weight="700" stroke="#000" stroke-width="1.0" text-anchor="middle" textLength="256.0" lengthAdjust="spacing" fill="#000">System</text>
</g>

</svg>
</body></html>
